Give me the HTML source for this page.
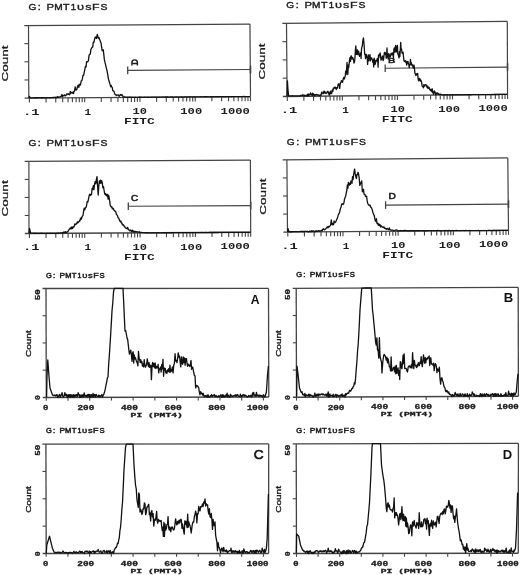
<!DOCTYPE html>
<html><head><meta charset="utf-8"><style>
html,body{margin:0;padding:0;background:#fff;}
svg{display:block;}
svg{will-change:transform;}
</style></head><body>
<svg width="520" height="575" viewBox="0 0 520 575">
<rect width="520" height="575" fill="#fff"/>
<line x1="24.30" y1="25.53" x2="249.95" y2="24.10" stroke="#444" stroke-width="1.20"/>
<line x1="28.50" y1="25.50" x2="28.80" y2="98.10" stroke="#444" stroke-width="1.20"/>
<line x1="249.95" y1="24.10" x2="250.50" y2="96.60" stroke="#444" stroke-width="1.20"/>
<line x1="24.60" y1="98.13" x2="250.50" y2="96.60" stroke="#444" stroke-width="1.40"/>
<line x1="24.38" y1="43.65" x2="28.57" y2="43.65" stroke="#444" stroke-width="1.10"/>
<line x1="24.45" y1="61.80" x2="28.65" y2="61.80" stroke="#444" stroke-width="1.10"/>
<line x1="24.53" y1="79.95" x2="28.73" y2="79.95" stroke="#444" stroke-width="1.10"/>
<line x1="29.40" y1="98.10" x2="29.40" y2="102.60" stroke="#444" stroke-width="1.10"/>
<line x1="46.04" y1="97.98" x2="46.04" y2="102.48" stroke="#444" stroke-width="1.10"/>
<line x1="55.77" y1="97.92" x2="55.77" y2="102.42" stroke="#444" stroke-width="1.10"/>
<line x1="62.68" y1="97.87" x2="62.68" y2="102.37" stroke="#444" stroke-width="1.10"/>
<line x1="68.04" y1="97.83" x2="68.04" y2="102.33" stroke="#444" stroke-width="1.10"/>
<line x1="72.41" y1="97.80" x2="72.41" y2="102.30" stroke="#444" stroke-width="1.10"/>
<line x1="76.11" y1="97.78" x2="76.11" y2="102.28" stroke="#444" stroke-width="1.10"/>
<line x1="79.32" y1="97.76" x2="79.32" y2="102.26" stroke="#444" stroke-width="1.10"/>
<line x1="82.15" y1="97.74" x2="82.15" y2="102.24" stroke="#444" stroke-width="1.10"/>
<line x1="84.67" y1="97.72" x2="84.67" y2="102.22" stroke="#444" stroke-width="1.10"/>
<line x1="101.31" y1="97.61" x2="101.31" y2="102.11" stroke="#444" stroke-width="1.10"/>
<line x1="111.05" y1="97.54" x2="111.05" y2="102.04" stroke="#444" stroke-width="1.10"/>
<line x1="117.95" y1="97.50" x2="117.95" y2="102.00" stroke="#444" stroke-width="1.10"/>
<line x1="123.31" y1="97.46" x2="123.31" y2="101.96" stroke="#444" stroke-width="1.10"/>
<line x1="127.69" y1="97.43" x2="127.69" y2="101.93" stroke="#444" stroke-width="1.10"/>
<line x1="131.39" y1="97.41" x2="131.39" y2="101.91" stroke="#444" stroke-width="1.10"/>
<line x1="134.59" y1="97.38" x2="134.59" y2="101.88" stroke="#444" stroke-width="1.10"/>
<line x1="137.42" y1="97.37" x2="137.42" y2="101.87" stroke="#444" stroke-width="1.10"/>
<line x1="139.95" y1="97.35" x2="139.95" y2="101.85" stroke="#444" stroke-width="1.10"/>
<line x1="156.59" y1="97.24" x2="156.59" y2="101.74" stroke="#444" stroke-width="1.10"/>
<line x1="166.32" y1="97.17" x2="166.32" y2="101.67" stroke="#444" stroke-width="1.10"/>
<line x1="173.23" y1="97.12" x2="173.23" y2="101.62" stroke="#444" stroke-width="1.10"/>
<line x1="178.59" y1="97.09" x2="178.59" y2="101.59" stroke="#444" stroke-width="1.10"/>
<line x1="182.96" y1="97.06" x2="182.96" y2="101.56" stroke="#444" stroke-width="1.10"/>
<line x1="186.66" y1="97.03" x2="186.66" y2="101.53" stroke="#444" stroke-width="1.10"/>
<line x1="189.87" y1="97.01" x2="189.87" y2="101.51" stroke="#444" stroke-width="1.10"/>
<line x1="192.70" y1="96.99" x2="192.70" y2="101.49" stroke="#444" stroke-width="1.10"/>
<line x1="195.22" y1="96.97" x2="195.22" y2="101.47" stroke="#444" stroke-width="1.10"/>
<line x1="211.86" y1="96.86" x2="211.86" y2="101.36" stroke="#444" stroke-width="1.10"/>
<line x1="221.60" y1="96.80" x2="221.60" y2="101.30" stroke="#444" stroke-width="1.10"/>
<line x1="228.50" y1="96.75" x2="228.50" y2="101.25" stroke="#444" stroke-width="1.10"/>
<line x1="233.86" y1="96.71" x2="233.86" y2="101.21" stroke="#444" stroke-width="1.10"/>
<line x1="238.24" y1="96.68" x2="238.24" y2="101.18" stroke="#444" stroke-width="1.10"/>
<line x1="241.94" y1="96.66" x2="241.94" y2="101.16" stroke="#444" stroke-width="1.10"/>
<line x1="245.14" y1="96.64" x2="245.14" y2="101.14" stroke="#444" stroke-width="1.10"/>
<line x1="247.97" y1="96.62" x2="247.97" y2="101.12" stroke="#444" stroke-width="1.10"/>
<line x1="250.50" y1="96.60" x2="250.50" y2="101.10" stroke="#444" stroke-width="1.10"/>
<line x1="127.70" y1="66.60" x2="127.70" y2="74.20" stroke="#444" stroke-width="1.30"/>
<line x1="127.70" y1="70.40" x2="250.50" y2="69.57" stroke="#444" stroke-width="1.10"/>
<line x1="250.50" y1="65.77" x2="250.50" y2="73.37" stroke="#444" stroke-width="1.60"/>
<path d="M131.90,65.40 L131.90,62.65 A2.75,2.75 0 0 1 137.40,62.65 L137.40,65.40 M131.90,63.50 L137.40,63.50" fill="none" stroke="#1c1c1c" stroke-width="1.4"/>
<text transform="translate(28.39,10.20) scale(1.1402,1.0000)" font-family="Liberation Sans" font-weight="normal" font-size="8.87" fill="#1c1c1c" stroke="#1c1c1c" stroke-width="0.39">G</text>
<text transform="translate(37.77,10.20) scale(1.2000,1.0000)" font-family="Liberation Sans" font-weight="normal" font-size="8.87" fill="#1c1c1c" stroke="#1c1c1c" stroke-width="0.38">:</text>
<text transform="translate(46.58,10.20) scale(1.2715,1.0000)" font-family="Liberation Sans" font-weight="normal" font-size="8.87" fill="#1c1c1c" stroke="#1c1c1c" stroke-width="0.35">P</text>
<text transform="translate(54.17,10.20) scale(1.1381,1.0000)" font-family="Liberation Sans" font-weight="normal" font-size="8.87" fill="#1c1c1c" stroke="#1c1c1c" stroke-width="0.40">M</text>
<text transform="translate(63.01,10.20) scale(1.1968,1.0000)" font-family="Liberation Sans" font-weight="normal" font-size="8.87" fill="#1c1c1c" stroke="#1c1c1c" stroke-width="0.38">T</text>
<text transform="translate(70.78,10.20) scale(1.0725,1.0000)" font-family="Liberation Sans" font-weight="normal" font-size="8.87" fill="#1c1c1c" stroke="#1c1c1c" stroke-width="0.42">1</text>
<text transform="translate(77.06,10.20) scale(1.4550,0.9897)" font-family="Liberation Sans" font-weight="normal" font-size="8.87" fill="#1c1c1c" stroke="#1c1c1c" stroke-width="0.31">υ</text>
<text transform="translate(85.15,10.20) scale(1.4226,0.9744)" font-family="Liberation Sans" font-weight="normal" font-size="8.87" fill="#1c1c1c" stroke="#1c1c1c" stroke-width="0.32">s</text>
<text transform="translate(91.99,10.20) scale(1.3845,1.0000)" font-family="Liberation Sans" font-weight="normal" font-size="8.87" fill="#1c1c1c" stroke="#1c1c1c" stroke-width="0.33">F</text>
<text transform="translate(100.53,10.20) scale(1.1755,1.0000)" font-family="Liberation Sans" font-weight="normal" font-size="8.87" fill="#1c1c1c" stroke="#1c1c1c" stroke-width="0.38">S</text>
<text transform="translate(8.41,81.49) rotate(-90) scale(1.4331,1)" font-family="Liberation Sans" font-weight="normal" font-size="9.46" fill="#1c1c1c" stroke="#1c1c1c" stroke-width="0.25">Count</text>
<text transform="translate(22.94,115.07) scale(1.5661,1)" font-family="Liberation Mono" font-weight="bold" font-size="8.81" fill="#1c1c1c">.1</text>
<text transform="translate(84.46,114.70) scale(1.2510,1)" font-family="Liberation Mono" font-weight="bold" font-size="8.81" fill="#1c1c1c">1</text>
<text transform="translate(132.59,114.27) scale(1.4040,1)" font-family="Liberation Mono" font-weight="bold" font-size="8.55" fill="#1c1c1c">10</text>
<text transform="translate(180.28,113.92) scale(1.4249,1)" font-family="Liberation Mono" font-weight="bold" font-size="8.55" fill="#1c1c1c">100</text>
<text transform="translate(220.58,113.62) scale(1.4246,1)" font-family="Liberation Mono" font-weight="bold" font-size="8.55" fill="#1c1c1c">1000</text>
<text transform="translate(123.95,124.21) scale(1.4096,1)" font-family="Liberation Mono" font-weight="bold" font-size="9.13" fill="#1c1c1c">FITC</text>
<line x1="282.30" y1="23.44" x2="507.30" y2="21.40" stroke="#444" stroke-width="1.20"/>
<line x1="286.50" y1="23.40" x2="287.10" y2="96.40" stroke="#444" stroke-width="1.20"/>
<line x1="507.30" y1="21.40" x2="507.55" y2="94.40" stroke="#444" stroke-width="1.20"/>
<line x1="282.90" y1="96.44" x2="507.55" y2="94.40" stroke="#444" stroke-width="1.40"/>
<line x1="282.45" y1="41.65" x2="286.65" y2="41.65" stroke="#444" stroke-width="1.10"/>
<line x1="282.60" y1="59.90" x2="286.80" y2="59.90" stroke="#444" stroke-width="1.10"/>
<line x1="282.75" y1="78.15" x2="286.95" y2="78.15" stroke="#444" stroke-width="1.10"/>
<line x1="287.30" y1="96.40" x2="287.30" y2="100.90" stroke="#444" stroke-width="1.10"/>
<line x1="303.88" y1="96.25" x2="303.88" y2="100.75" stroke="#444" stroke-width="1.10"/>
<line x1="313.57" y1="96.16" x2="313.57" y2="100.66" stroke="#444" stroke-width="1.10"/>
<line x1="320.45" y1="96.10" x2="320.45" y2="100.60" stroke="#444" stroke-width="1.10"/>
<line x1="325.79" y1="96.05" x2="325.79" y2="100.55" stroke="#444" stroke-width="1.10"/>
<line x1="330.15" y1="96.01" x2="330.15" y2="100.51" stroke="#444" stroke-width="1.10"/>
<line x1="333.83" y1="95.98" x2="333.83" y2="100.48" stroke="#444" stroke-width="1.10"/>
<line x1="337.03" y1="95.95" x2="337.03" y2="100.45" stroke="#444" stroke-width="1.10"/>
<line x1="339.84" y1="95.92" x2="339.84" y2="100.42" stroke="#444" stroke-width="1.10"/>
<line x1="342.36" y1="95.90" x2="342.36" y2="100.40" stroke="#444" stroke-width="1.10"/>
<line x1="358.94" y1="95.75" x2="358.94" y2="100.25" stroke="#444" stroke-width="1.10"/>
<line x1="368.63" y1="95.66" x2="368.63" y2="100.16" stroke="#444" stroke-width="1.10"/>
<line x1="375.51" y1="95.60" x2="375.51" y2="100.10" stroke="#444" stroke-width="1.10"/>
<line x1="380.85" y1="95.55" x2="380.85" y2="100.05" stroke="#444" stroke-width="1.10"/>
<line x1="385.21" y1="95.51" x2="385.21" y2="100.01" stroke="#444" stroke-width="1.10"/>
<line x1="388.90" y1="95.48" x2="388.90" y2="99.98" stroke="#444" stroke-width="1.10"/>
<line x1="392.09" y1="95.45" x2="392.09" y2="99.95" stroke="#444" stroke-width="1.10"/>
<line x1="394.91" y1="95.42" x2="394.91" y2="99.92" stroke="#444" stroke-width="1.10"/>
<line x1="397.43" y1="95.40" x2="397.43" y2="99.90" stroke="#444" stroke-width="1.10"/>
<line x1="414.00" y1="95.25" x2="414.00" y2="99.75" stroke="#444" stroke-width="1.10"/>
<line x1="423.70" y1="95.16" x2="423.70" y2="99.66" stroke="#444" stroke-width="1.10"/>
<line x1="430.58" y1="95.10" x2="430.58" y2="99.60" stroke="#444" stroke-width="1.10"/>
<line x1="435.91" y1="95.05" x2="435.91" y2="99.55" stroke="#444" stroke-width="1.10"/>
<line x1="440.27" y1="95.01" x2="440.27" y2="99.51" stroke="#444" stroke-width="1.10"/>
<line x1="443.96" y1="94.98" x2="443.96" y2="99.48" stroke="#444" stroke-width="1.10"/>
<line x1="447.15" y1="94.95" x2="447.15" y2="99.45" stroke="#444" stroke-width="1.10"/>
<line x1="449.97" y1="94.92" x2="449.97" y2="99.42" stroke="#444" stroke-width="1.10"/>
<line x1="452.49" y1="94.90" x2="452.49" y2="99.40" stroke="#444" stroke-width="1.10"/>
<line x1="469.06" y1="94.75" x2="469.06" y2="99.25" stroke="#444" stroke-width="1.10"/>
<line x1="478.76" y1="94.66" x2="478.76" y2="99.16" stroke="#444" stroke-width="1.10"/>
<line x1="485.64" y1="94.60" x2="485.64" y2="99.10" stroke="#444" stroke-width="1.10"/>
<line x1="490.97" y1="94.55" x2="490.97" y2="99.05" stroke="#444" stroke-width="1.10"/>
<line x1="495.33" y1="94.51" x2="495.33" y2="99.01" stroke="#444" stroke-width="1.10"/>
<line x1="499.02" y1="94.48" x2="499.02" y2="98.98" stroke="#444" stroke-width="1.10"/>
<line x1="502.21" y1="94.45" x2="502.21" y2="98.95" stroke="#444" stroke-width="1.10"/>
<line x1="505.03" y1="94.42" x2="505.03" y2="98.92" stroke="#444" stroke-width="1.10"/>
<line x1="507.55" y1="94.40" x2="507.55" y2="98.90" stroke="#444" stroke-width="1.10"/>
<line x1="385.20" y1="64.40" x2="385.20" y2="72.00" stroke="#444" stroke-width="1.30"/>
<line x1="385.20" y1="68.20" x2="507.55" y2="67.09" stroke="#444" stroke-width="1.10"/>
<line x1="507.55" y1="63.29" x2="507.55" y2="70.89" stroke="#444" stroke-width="1.60"/>
<text transform="translate(387.94,63.15) scale(1.3867,1)" font-family="Liberation Sans" font-weight="normal" font-size="7.99" fill="#1c1c1c" stroke="#1c1c1c" stroke-width="0.55">B</text>
<text transform="translate(286.29,8.10) scale(1.1402,1.0000)" font-family="Liberation Sans" font-weight="normal" font-size="8.87" fill="#1c1c1c" stroke="#1c1c1c" stroke-width="0.39">G</text>
<text transform="translate(295.67,8.10) scale(1.2000,1.0000)" font-family="Liberation Sans" font-weight="normal" font-size="8.87" fill="#1c1c1c" stroke="#1c1c1c" stroke-width="0.38">:</text>
<text transform="translate(304.48,8.10) scale(1.2715,1.0000)" font-family="Liberation Sans" font-weight="normal" font-size="8.87" fill="#1c1c1c" stroke="#1c1c1c" stroke-width="0.35">P</text>
<text transform="translate(312.07,8.10) scale(1.1381,1.0000)" font-family="Liberation Sans" font-weight="normal" font-size="8.87" fill="#1c1c1c" stroke="#1c1c1c" stroke-width="0.40">M</text>
<text transform="translate(320.91,8.10) scale(1.1968,1.0000)" font-family="Liberation Sans" font-weight="normal" font-size="8.87" fill="#1c1c1c" stroke="#1c1c1c" stroke-width="0.38">T</text>
<text transform="translate(328.68,8.10) scale(1.0725,1.0000)" font-family="Liberation Sans" font-weight="normal" font-size="8.87" fill="#1c1c1c" stroke="#1c1c1c" stroke-width="0.42">1</text>
<text transform="translate(334.96,8.10) scale(1.4550,0.9897)" font-family="Liberation Sans" font-weight="normal" font-size="8.87" fill="#1c1c1c" stroke="#1c1c1c" stroke-width="0.31">υ</text>
<text transform="translate(343.05,8.10) scale(1.4226,0.9744)" font-family="Liberation Sans" font-weight="normal" font-size="8.87" fill="#1c1c1c" stroke="#1c1c1c" stroke-width="0.32">s</text>
<text transform="translate(349.89,8.10) scale(1.3845,1.0000)" font-family="Liberation Sans" font-weight="normal" font-size="8.87" fill="#1c1c1c" stroke="#1c1c1c" stroke-width="0.33">F</text>
<text transform="translate(358.43,8.10) scale(1.1755,1.0000)" font-family="Liberation Sans" font-weight="normal" font-size="8.87" fill="#1c1c1c" stroke="#1c1c1c" stroke-width="0.38">S</text>
<text transform="translate(265.41,79.49) rotate(-90) scale(1.4331,1)" font-family="Liberation Sans" font-weight="normal" font-size="9.46" fill="#1c1c1c" stroke="#1c1c1c" stroke-width="0.25">Count</text>
<text transform="translate(280.84,113.37) scale(1.5661,1)" font-family="Liberation Mono" font-weight="bold" font-size="8.81" fill="#1c1c1c">.1</text>
<text transform="translate(342.36,112.87) scale(1.2510,1)" font-family="Liberation Mono" font-weight="bold" font-size="8.81" fill="#1c1c1c">1</text>
<text transform="translate(390.49,112.31) scale(1.4040,1)" font-family="Liberation Mono" font-weight="bold" font-size="8.55" fill="#1c1c1c">10</text>
<text transform="translate(438.18,111.85) scale(1.4249,1)" font-family="Liberation Mono" font-weight="bold" font-size="8.55" fill="#1c1c1c">100</text>
<text transform="translate(478.48,111.45) scale(1.4246,1)" font-family="Liberation Mono" font-weight="bold" font-size="8.55" fill="#1c1c1c">1000</text>
<text transform="translate(381.85,122.26) scale(1.4096,1)" font-family="Liberation Mono" font-weight="bold" font-size="9.13" fill="#1c1c1c">FITC</text>
<line x1="24.70" y1="161.42" x2="250.40" y2="160.10" stroke="#444" stroke-width="1.20"/>
<line x1="28.90" y1="161.40" x2="29.00" y2="233.50" stroke="#444" stroke-width="1.20"/>
<line x1="250.40" y1="160.10" x2="250.70" y2="232.30" stroke="#444" stroke-width="1.20"/>
<line x1="24.80" y1="233.52" x2="250.70" y2="232.30" stroke="#444" stroke-width="1.40"/>
<line x1="24.72" y1="179.43" x2="28.92" y2="179.43" stroke="#444" stroke-width="1.10"/>
<line x1="24.75" y1="197.45" x2="28.95" y2="197.45" stroke="#444" stroke-width="1.10"/>
<line x1="24.78" y1="215.47" x2="28.98" y2="215.47" stroke="#444" stroke-width="1.10"/>
<line x1="29.40" y1="233.50" x2="29.40" y2="238.00" stroke="#444" stroke-width="1.10"/>
<line x1="46.05" y1="233.41" x2="46.05" y2="237.91" stroke="#444" stroke-width="1.10"/>
<line x1="55.80" y1="233.35" x2="55.80" y2="237.85" stroke="#444" stroke-width="1.10"/>
<line x1="62.71" y1="233.32" x2="62.71" y2="237.82" stroke="#444" stroke-width="1.10"/>
<line x1="68.07" y1="233.29" x2="68.07" y2="237.79" stroke="#444" stroke-width="1.10"/>
<line x1="72.45" y1="233.26" x2="72.45" y2="237.76" stroke="#444" stroke-width="1.10"/>
<line x1="76.16" y1="233.24" x2="76.16" y2="237.74" stroke="#444" stroke-width="1.10"/>
<line x1="79.36" y1="233.23" x2="79.36" y2="237.73" stroke="#444" stroke-width="1.10"/>
<line x1="82.19" y1="233.21" x2="82.19" y2="237.71" stroke="#444" stroke-width="1.10"/>
<line x1="84.72" y1="233.20" x2="84.72" y2="237.70" stroke="#444" stroke-width="1.10"/>
<line x1="101.38" y1="233.11" x2="101.38" y2="237.61" stroke="#444" stroke-width="1.10"/>
<line x1="111.12" y1="233.06" x2="111.12" y2="237.56" stroke="#444" stroke-width="1.10"/>
<line x1="118.03" y1="233.02" x2="118.03" y2="237.52" stroke="#444" stroke-width="1.10"/>
<line x1="123.40" y1="232.99" x2="123.40" y2="237.49" stroke="#444" stroke-width="1.10"/>
<line x1="127.78" y1="232.97" x2="127.78" y2="237.47" stroke="#444" stroke-width="1.10"/>
<line x1="131.48" y1="232.95" x2="131.48" y2="237.45" stroke="#444" stroke-width="1.10"/>
<line x1="134.69" y1="232.93" x2="134.69" y2="237.43" stroke="#444" stroke-width="1.10"/>
<line x1="137.52" y1="232.91" x2="137.52" y2="237.41" stroke="#444" stroke-width="1.10"/>
<line x1="140.05" y1="232.90" x2="140.05" y2="237.40" stroke="#444" stroke-width="1.10"/>
<line x1="156.70" y1="232.81" x2="156.70" y2="237.31" stroke="#444" stroke-width="1.10"/>
<line x1="166.45" y1="232.76" x2="166.45" y2="237.26" stroke="#444" stroke-width="1.10"/>
<line x1="173.36" y1="232.72" x2="173.36" y2="237.22" stroke="#444" stroke-width="1.10"/>
<line x1="178.72" y1="232.69" x2="178.72" y2="237.19" stroke="#444" stroke-width="1.10"/>
<line x1="183.10" y1="232.67" x2="183.10" y2="237.17" stroke="#444" stroke-width="1.10"/>
<line x1="186.81" y1="232.65" x2="186.81" y2="237.15" stroke="#444" stroke-width="1.10"/>
<line x1="190.01" y1="232.63" x2="190.01" y2="237.13" stroke="#444" stroke-width="1.10"/>
<line x1="192.84" y1="232.61" x2="192.84" y2="237.11" stroke="#444" stroke-width="1.10"/>
<line x1="195.38" y1="232.60" x2="195.38" y2="237.10" stroke="#444" stroke-width="1.10"/>
<line x1="212.03" y1="232.51" x2="212.03" y2="237.01" stroke="#444" stroke-width="1.10"/>
<line x1="221.77" y1="232.46" x2="221.77" y2="236.96" stroke="#444" stroke-width="1.10"/>
<line x1="228.68" y1="232.42" x2="228.68" y2="236.92" stroke="#444" stroke-width="1.10"/>
<line x1="234.05" y1="232.39" x2="234.05" y2="236.89" stroke="#444" stroke-width="1.10"/>
<line x1="238.43" y1="232.37" x2="238.43" y2="236.87" stroke="#444" stroke-width="1.10"/>
<line x1="242.13" y1="232.35" x2="242.13" y2="236.85" stroke="#444" stroke-width="1.10"/>
<line x1="245.34" y1="232.33" x2="245.34" y2="236.83" stroke="#444" stroke-width="1.10"/>
<line x1="248.17" y1="232.31" x2="248.17" y2="236.81" stroke="#444" stroke-width="1.10"/>
<line x1="250.70" y1="232.30" x2="250.70" y2="236.80" stroke="#444" stroke-width="1.10"/>
<line x1="128.30" y1="202.50" x2="128.30" y2="210.10" stroke="#444" stroke-width="1.30"/>
<line x1="128.30" y1="206.30" x2="250.70" y2="205.64" stroke="#444" stroke-width="1.10"/>
<line x1="250.70" y1="201.84" x2="250.70" y2="209.44" stroke="#444" stroke-width="1.60"/>
<text transform="translate(131.04,200.96) scale(1.1360,1)" font-family="Liberation Sans" font-weight="normal" font-size="8.76" fill="#1c1c1c" stroke="#1c1c1c" stroke-width="0.55">C</text>
<text transform="translate(28.39,146.10) scale(1.1402,1.0000)" font-family="Liberation Sans" font-weight="normal" font-size="8.87" fill="#1c1c1c" stroke="#1c1c1c" stroke-width="0.39">G</text>
<text transform="translate(37.77,146.10) scale(1.2000,1.0000)" font-family="Liberation Sans" font-weight="normal" font-size="8.87" fill="#1c1c1c" stroke="#1c1c1c" stroke-width="0.38">:</text>
<text transform="translate(46.58,146.10) scale(1.2715,1.0000)" font-family="Liberation Sans" font-weight="normal" font-size="8.87" fill="#1c1c1c" stroke="#1c1c1c" stroke-width="0.35">P</text>
<text transform="translate(54.17,146.10) scale(1.1381,1.0000)" font-family="Liberation Sans" font-weight="normal" font-size="8.87" fill="#1c1c1c" stroke="#1c1c1c" stroke-width="0.40">M</text>
<text transform="translate(63.01,146.10) scale(1.1968,1.0000)" font-family="Liberation Sans" font-weight="normal" font-size="8.87" fill="#1c1c1c" stroke="#1c1c1c" stroke-width="0.38">T</text>
<text transform="translate(70.78,146.10) scale(1.0725,1.0000)" font-family="Liberation Sans" font-weight="normal" font-size="8.87" fill="#1c1c1c" stroke="#1c1c1c" stroke-width="0.42">1</text>
<text transform="translate(77.06,146.10) scale(1.4550,0.9897)" font-family="Liberation Sans" font-weight="normal" font-size="8.87" fill="#1c1c1c" stroke="#1c1c1c" stroke-width="0.31">υ</text>
<text transform="translate(85.15,146.10) scale(1.4226,0.9744)" font-family="Liberation Sans" font-weight="normal" font-size="8.87" fill="#1c1c1c" stroke="#1c1c1c" stroke-width="0.32">s</text>
<text transform="translate(91.99,146.10) scale(1.3845,1.0000)" font-family="Liberation Sans" font-weight="normal" font-size="8.87" fill="#1c1c1c" stroke="#1c1c1c" stroke-width="0.33">F</text>
<text transform="translate(100.53,146.10) scale(1.1755,1.0000)" font-family="Liberation Sans" font-weight="normal" font-size="8.87" fill="#1c1c1c" stroke="#1c1c1c" stroke-width="0.38">S</text>
<text transform="translate(8.41,216.49) rotate(-90) scale(1.4548,1)" font-family="Liberation Sans" font-weight="normal" font-size="9.32" fill="#1c1c1c" stroke="#1c1c1c" stroke-width="0.25">Count</text>
<text transform="translate(22.94,250.48) scale(1.5661,1)" font-family="Liberation Mono" font-weight="bold" font-size="8.81" fill="#1c1c1c">.1</text>
<text transform="translate(84.46,250.18) scale(1.2510,1)" font-family="Liberation Mono" font-weight="bold" font-size="8.81" fill="#1c1c1c">1</text>
<text transform="translate(132.59,249.82) scale(1.4040,1)" font-family="Liberation Mono" font-weight="bold" font-size="8.55" fill="#1c1c1c">10</text>
<text transform="translate(180.28,249.54) scale(1.4249,1)" font-family="Liberation Mono" font-weight="bold" font-size="8.55" fill="#1c1c1c">100</text>
<text transform="translate(220.58,249.30) scale(1.4246,1)" font-family="Liberation Mono" font-weight="bold" font-size="8.55" fill="#1c1c1c">1000</text>
<text transform="translate(123.95,259.76) scale(1.4096,1)" font-family="Liberation Mono" font-weight="bold" font-size="9.13" fill="#1c1c1c">FITC</text>
<line x1="282.70" y1="159.94" x2="507.80" y2="157.90" stroke="#444" stroke-width="1.20"/>
<line x1="286.90" y1="159.90" x2="287.50" y2="232.10" stroke="#444" stroke-width="1.20"/>
<line x1="507.80" y1="157.90" x2="508.50" y2="230.40" stroke="#444" stroke-width="1.20"/>
<line x1="283.30" y1="232.13" x2="508.50" y2="230.40" stroke="#444" stroke-width="1.40"/>
<line x1="282.85" y1="177.95" x2="287.05" y2="177.95" stroke="#444" stroke-width="1.10"/>
<line x1="283.00" y1="196.00" x2="287.20" y2="196.00" stroke="#444" stroke-width="1.10"/>
<line x1="283.15" y1="214.05" x2="287.35" y2="214.05" stroke="#444" stroke-width="1.10"/>
<line x1="287.80" y1="232.10" x2="287.80" y2="236.60" stroke="#444" stroke-width="1.10"/>
<line x1="304.41" y1="231.97" x2="304.41" y2="236.47" stroke="#444" stroke-width="1.10"/>
<line x1="314.13" y1="231.90" x2="314.13" y2="236.40" stroke="#444" stroke-width="1.10"/>
<line x1="321.02" y1="231.84" x2="321.02" y2="236.34" stroke="#444" stroke-width="1.10"/>
<line x1="326.37" y1="231.80" x2="326.37" y2="236.30" stroke="#444" stroke-width="1.10"/>
<line x1="330.73" y1="231.77" x2="330.73" y2="236.27" stroke="#444" stroke-width="1.10"/>
<line x1="334.43" y1="231.74" x2="334.43" y2="236.24" stroke="#444" stroke-width="1.10"/>
<line x1="337.63" y1="231.71" x2="337.63" y2="236.21" stroke="#444" stroke-width="1.10"/>
<line x1="340.45" y1="231.69" x2="340.45" y2="236.19" stroke="#444" stroke-width="1.10"/>
<line x1="342.98" y1="231.67" x2="342.98" y2="236.17" stroke="#444" stroke-width="1.10"/>
<line x1="359.58" y1="231.55" x2="359.58" y2="236.05" stroke="#444" stroke-width="1.10"/>
<line x1="369.30" y1="231.47" x2="369.30" y2="235.97" stroke="#444" stroke-width="1.10"/>
<line x1="376.19" y1="231.42" x2="376.19" y2="235.92" stroke="#444" stroke-width="1.10"/>
<line x1="381.54" y1="231.38" x2="381.54" y2="235.88" stroke="#444" stroke-width="1.10"/>
<line x1="385.91" y1="231.34" x2="385.91" y2="235.84" stroke="#444" stroke-width="1.10"/>
<line x1="389.60" y1="231.31" x2="389.60" y2="235.81" stroke="#444" stroke-width="1.10"/>
<line x1="392.80" y1="231.29" x2="392.80" y2="235.79" stroke="#444" stroke-width="1.10"/>
<line x1="395.63" y1="231.27" x2="395.63" y2="235.77" stroke="#444" stroke-width="1.10"/>
<line x1="398.15" y1="231.25" x2="398.15" y2="235.75" stroke="#444" stroke-width="1.10"/>
<line x1="414.76" y1="231.12" x2="414.76" y2="235.62" stroke="#444" stroke-width="1.10"/>
<line x1="424.48" y1="231.05" x2="424.48" y2="235.55" stroke="#444" stroke-width="1.10"/>
<line x1="431.37" y1="230.99" x2="431.37" y2="235.49" stroke="#444" stroke-width="1.10"/>
<line x1="436.72" y1="230.95" x2="436.72" y2="235.45" stroke="#444" stroke-width="1.10"/>
<line x1="441.08" y1="230.92" x2="441.08" y2="235.42" stroke="#444" stroke-width="1.10"/>
<line x1="444.78" y1="230.89" x2="444.78" y2="235.39" stroke="#444" stroke-width="1.10"/>
<line x1="447.98" y1="230.87" x2="447.98" y2="235.37" stroke="#444" stroke-width="1.10"/>
<line x1="450.80" y1="230.84" x2="450.80" y2="235.34" stroke="#444" stroke-width="1.10"/>
<line x1="453.32" y1="230.82" x2="453.32" y2="235.32" stroke="#444" stroke-width="1.10"/>
<line x1="469.93" y1="230.70" x2="469.93" y2="235.20" stroke="#444" stroke-width="1.10"/>
<line x1="479.65" y1="230.62" x2="479.65" y2="235.12" stroke="#444" stroke-width="1.10"/>
<line x1="486.54" y1="230.57" x2="486.54" y2="235.07" stroke="#444" stroke-width="1.10"/>
<line x1="491.89" y1="230.53" x2="491.89" y2="235.03" stroke="#444" stroke-width="1.10"/>
<line x1="496.26" y1="230.49" x2="496.26" y2="234.99" stroke="#444" stroke-width="1.10"/>
<line x1="499.95" y1="230.47" x2="499.95" y2="234.97" stroke="#444" stroke-width="1.10"/>
<line x1="503.15" y1="230.44" x2="503.15" y2="234.94" stroke="#444" stroke-width="1.10"/>
<line x1="505.98" y1="230.42" x2="505.98" y2="234.92" stroke="#444" stroke-width="1.10"/>
<line x1="508.50" y1="230.40" x2="508.50" y2="234.90" stroke="#444" stroke-width="1.10"/>
<line x1="385.60" y1="201.30" x2="385.60" y2="208.90" stroke="#444" stroke-width="1.30"/>
<line x1="385.60" y1="205.10" x2="508.50" y2="204.15" stroke="#444" stroke-width="1.10"/>
<line x1="508.50" y1="200.35" x2="508.50" y2="207.95" stroke="#444" stroke-width="1.60"/>
<text transform="translate(388.52,199.15) scale(1.1813,1)" font-family="Liberation Sans" font-weight="normal" font-size="8.58" fill="#1c1c1c" stroke="#1c1c1c" stroke-width="0.55">D</text>
<text transform="translate(286.79,144.60) scale(1.1402,1.0000)" font-family="Liberation Sans" font-weight="normal" font-size="8.87" fill="#1c1c1c" stroke="#1c1c1c" stroke-width="0.39">G</text>
<text transform="translate(296.17,144.60) scale(1.2000,1.0000)" font-family="Liberation Sans" font-weight="normal" font-size="8.87" fill="#1c1c1c" stroke="#1c1c1c" stroke-width="0.38">:</text>
<text transform="translate(304.98,144.60) scale(1.2715,1.0000)" font-family="Liberation Sans" font-weight="normal" font-size="8.87" fill="#1c1c1c" stroke="#1c1c1c" stroke-width="0.35">P</text>
<text transform="translate(312.57,144.60) scale(1.1381,1.0000)" font-family="Liberation Sans" font-weight="normal" font-size="8.87" fill="#1c1c1c" stroke="#1c1c1c" stroke-width="0.40">M</text>
<text transform="translate(321.41,144.60) scale(1.1968,1.0000)" font-family="Liberation Sans" font-weight="normal" font-size="8.87" fill="#1c1c1c" stroke="#1c1c1c" stroke-width="0.38">T</text>
<text transform="translate(329.18,144.60) scale(1.0725,1.0000)" font-family="Liberation Sans" font-weight="normal" font-size="8.87" fill="#1c1c1c" stroke="#1c1c1c" stroke-width="0.42">1</text>
<text transform="translate(335.46,144.60) scale(1.4550,0.9897)" font-family="Liberation Sans" font-weight="normal" font-size="8.87" fill="#1c1c1c" stroke="#1c1c1c" stroke-width="0.31">υ</text>
<text transform="translate(343.55,144.60) scale(1.4226,0.9744)" font-family="Liberation Sans" font-weight="normal" font-size="8.87" fill="#1c1c1c" stroke="#1c1c1c" stroke-width="0.32">s</text>
<text transform="translate(350.39,144.60) scale(1.3845,1.0000)" font-family="Liberation Sans" font-weight="normal" font-size="8.87" fill="#1c1c1c" stroke="#1c1c1c" stroke-width="0.33">F</text>
<text transform="translate(358.93,144.60) scale(1.1755,1.0000)" font-family="Liberation Sans" font-weight="normal" font-size="8.87" fill="#1c1c1c" stroke="#1c1c1c" stroke-width="0.38">S</text>
<text transform="translate(265.51,214.69) rotate(-90) scale(1.4772,1)" font-family="Liberation Sans" font-weight="normal" font-size="9.18" fill="#1c1c1c" stroke="#1c1c1c" stroke-width="0.25">Count</text>
<text transform="translate(281.34,249.07) scale(1.5661,1)" font-family="Liberation Mono" font-weight="bold" font-size="8.81" fill="#1c1c1c">.1</text>
<text transform="translate(342.86,248.65) scale(1.2510,1)" font-family="Liberation Mono" font-weight="bold" font-size="8.81" fill="#1c1c1c">1</text>
<text transform="translate(390.99,248.16) scale(1.4040,1)" font-family="Liberation Mono" font-weight="bold" font-size="8.55" fill="#1c1c1c">10</text>
<text transform="translate(438.68,247.77) scale(1.4249,1)" font-family="Liberation Mono" font-weight="bold" font-size="8.55" fill="#1c1c1c">100</text>
<text transform="translate(478.98,247.43) scale(1.4246,1)" font-family="Liberation Mono" font-weight="bold" font-size="8.55" fill="#1c1c1c">1000</text>
<text transform="translate(382.35,258.11) scale(1.4096,1)" font-family="Liberation Mono" font-weight="bold" font-size="9.13" fill="#1c1c1c">FITC</text>
<polyline fill="none" stroke="#111" stroke-width="1.30" stroke-linejoin="round" points="29.00,98.00 29.40,96.30 30.20,97.80 30.71,97.79 31.22,97.80 31.72,97.79 32.23,97.79 32.74,97.81 33.25,97.78 33.75,97.76 34.26,97.79 34.77,97.81 35.28,97.67 35.78,97.81 36.29,97.74 36.80,97.72 37.31,97.76 37.82,97.73 38.32,97.72 38.83,97.61 39.34,97.71 39.85,97.80 40.35,97.72 40.86,97.78 41.37,97.73 41.88,97.77 42.38,97.75 42.89,97.80 43.40,97.57 43.91,97.78 44.42,97.76 44.92,97.81 45.43,97.78 45.94,97.76 46.45,97.64 46.95,97.68 47.46,97.70 47.97,97.80 48.48,97.73 48.98,97.61 49.49,97.56 50.00,97.70 50.50,97.79 51.00,97.59 51.50,97.68 52.00,97.66 52.50,97.53 53.00,97.43 53.50,97.56 54.00,97.38 54.50,97.42 55.00,97.30 55.54,97.76 56.09,97.06 56.63,97.68 57.18,97.49 57.72,96.48 58.27,97.38 58.81,97.11 59.36,97.11 59.90,96.90 60.41,96.32 60.93,96.66 61.44,95.76 61.96,94.35 62.47,96.50 62.99,95.60 63.50,95.80 64.03,95.10 64.56,94.87 65.09,96.02 65.61,95.32 66.14,95.24 66.67,93.97 67.20,94.50 67.71,94.03 68.23,93.68 68.74,94.44 69.26,94.76 69.77,94.62 70.29,91.38 70.80,93.30 71.34,92.77 71.89,92.31 72.43,93.17 72.98,92.12 73.52,93.50 74.07,91.23 74.61,91.03 75.16,86.90 75.70,89.60 76.23,89.97 76.75,89.62 77.28,87.52 77.80,85.69 78.33,85.13 78.85,87.36 79.38,84.27 79.90,84.70 80.40,85.10 80.90,82.33 81.40,80.55 81.90,80.55 82.40,78.70 83.00,75.45 83.60,75.32 84.20,72.60 84.80,69.55 85.40,66.50 86.00,67.07 86.60,61.68 87.20,61.97 87.80,61.60 88.43,60.64 89.07,55.19 89.70,54.30 90.30,54.17 90.90,49.34 91.50,48.20 92.10,47.31 92.70,47.14 93.30,42.20 93.90,42.35 94.50,39.70 95.13,37.22 95.77,37.08 96.40,38.50 97.30,34.50 98.20,38.00 99.00,37.50 99.50,39.70 100.00,39.81 100.50,42.20 101.05,42.97 101.60,46.88 102.15,50.56 102.70,50.63 103.25,49.78 103.80,54.40 104.35,59.40 104.90,62.18 105.45,64.12 106.00,66.60 106.60,69.10 107.20,71.51 107.80,74.81 108.40,78.80 109.00,81.07 109.60,82.72 110.20,84.90 110.72,86.80 111.23,85.48 111.75,86.78 112.27,87.56 112.78,90.72 113.30,91.00 113.90,91.12 114.50,93.19 115.10,94.38 115.70,94.60 116.28,95.57 116.85,94.97 117.42,95.13 118.00,95.20 118.55,94.89 119.10,96.38 119.65,95.57 120.20,95.02 120.75,94.48 121.30,95.37 121.85,94.79 122.40,95.20 122.95,96.39 123.50,96.80 124.00,97.01 124.50,96.96 125.00,97.01 125.50,97.16 126.00,97.30 126.50,97.17 127.00,97.17 127.50,97.24 128.00,97.16 128.50,97.23 129.00,97.40 129.50,97.23 130.00,97.30 130.50,96.93 131.00,97.24 131.50,97.38 132.00,97.39 132.50,97.26 133.00,97.16 133.50,97.35 134.00,97.39 134.50,97.33 135.00,97.35 135.50,97.13 136.00,97.37 136.50,97.36 137.00,97.37 137.50,97.33 138.00,97.28 138.50,97.36 139.00,97.14 139.50,96.97 140.00,97.15 140.50,97.34 141.00,97.23 141.50,97.32 142.00,97.18 142.50,97.33 143.00,97.33 143.50,97.23 144.00,97.09 144.50,97.13 145.00,97.09 145.50,97.19 146.00,97.13 146.50,97.30 147.00,97.22 147.50,97.12 148.00,97.29 148.50,97.12 149.00,97.24 149.50,97.28 150.00,97.28 150.50,97.21 151.00,97.16 151.50,97.07 152.00,97.09 152.50,97.05 153.00,97.14 153.50,97.03 154.00,97.15 154.50,97.04 155.00,97.25 155.50,97.22 156.00,97.10 156.50,97.09 157.00,97.14 157.50,97.13 158.00,97.05 158.50,97.19 159.00,97.22 159.50,97.15 160.00,97.16 160.50,97.21 161.00,97.21 161.50,97.20 162.00,97.20 162.50,97.13 163.00,97.00 163.50,97.10 164.00,97.13 164.50,97.05 165.00,97.18 165.50,96.83 166.00,97.17 166.50,97.01 167.00,97.00 167.50,96.99 168.00,97.15 168.50,97.15 169.00,97.05 169.50,97.14 170.00,97.02 170.50,96.93 171.00,96.93 171.50,97.06 172.00,97.12 172.50,96.93 173.00,97.06 173.50,97.03 174.00,97.12 174.50,97.09 175.00,97.04 175.50,97.09 176.00,96.90 176.50,96.98 177.00,97.10 177.50,97.08 178.00,97.07 178.50,97.09 179.00,97.01 179.50,97.06 180.00,97.06 180.50,97.04 181.00,97.00 181.50,97.01 182.00,96.93 182.50,97.06 183.00,97.06 183.50,97.05 184.00,97.05 184.50,96.83 185.00,96.86 185.50,96.93 186.00,96.86 186.50,97.03 187.00,97.03 187.50,97.01 188.00,96.94 188.50,96.85 189.00,96.88 189.50,96.97 190.00,96.81 190.50,96.84 191.00,96.83 191.50,96.97 192.00,96.87 192.50,96.85 193.00,96.79 193.50,96.99 194.00,96.91 194.50,96.78 195.00,96.98 195.50,96.92 196.00,96.97 196.50,96.87 197.00,96.83 197.50,96.96 198.00,96.93 198.50,96.94 199.00,96.95 199.50,96.95 200.00,96.81 200.50,96.75 201.00,96.93 201.50,96.90 202.00,96.77 202.50,96.86 203.00,96.92 203.50,96.84 204.00,96.83 204.50,96.77 205.00,96.72 205.50,96.80 206.00,96.71 206.50,96.90 207.00,96.70 207.50,96.89 208.00,96.87 208.50,96.88 209.00,96.88 209.50,96.80 210.00,96.79 210.50,96.74 211.00,96.81 211.50,96.73 212.00,96.76 212.50,96.86 213.00,96.67 213.50,96.85 214.00,96.77 214.50,96.84 215.00,96.84 215.50,96.69 216.00,96.65 216.50,96.83 217.00,96.75 217.50,96.77 218.00,96.63 218.50,96.79 219.00,96.81 219.50,96.75 220.00,96.77 220.50,96.70 221.00,96.67 221.50,96.71 222.00,96.69 222.50,96.68 223.00,96.79 223.50,96.73 224.00,96.78 224.50,96.78 225.00,96.75 225.50,96.75 226.00,96.61 226.50,96.76 227.00,96.60 227.50,96.61 228.00,96.64 228.50,96.58 229.00,96.75 229.50,96.72 230.00,96.66 230.50,96.57 231.00,96.73 231.50,96.73 232.00,96.73 232.50,96.62 233.00,96.64 233.50,96.56 234.00,96.71 234.50,96.65 235.00,96.70 235.50,96.70 236.00,96.59 236.50,96.68 237.00,96.69 237.50,96.56 238.00,96.67 238.50,96.68 239.00,96.68 239.50,96.67 240.00,96.62 240.50,96.63 241.00,96.52 241.50,96.66 242.00,96.62 242.50,96.57 243.00,96.38 243.50,96.53 244.00,96.58 244.50,96.50 245.00,96.62 245.50,96.63 246.00,96.63 246.50,96.63 247.00,96.51 247.50,96.62 248.00,96.62 248.50,96.61 249.00,96.61 249.50,96.57 250.00,96.60"/>
<polyline fill="none" stroke="#111" stroke-width="1.30" stroke-linejoin="round" points="287.00,96.20 287.40,81.00 288.00,90.00 288.60,95.80 289.01,95.81 289.41,95.78 289.82,95.82 290.23,95.81 290.64,95.82 291.04,95.80 291.45,95.82 291.86,95.87 292.26,95.84 292.67,95.71 293.08,95.82 293.49,95.90 293.89,95.90 294.30,95.80 294.71,95.80 295.11,95.86 295.52,95.86 295.93,95.96 296.34,95.85 296.74,95.96 297.15,95.90 297.56,95.96 297.96,95.99 298.37,95.95 298.78,95.82 299.19,95.89 299.59,95.98 300.00,95.90 300.45,95.70 300.90,95.32 301.35,95.44 301.80,95.43 302.25,95.53 302.70,94.80 303.16,95.62 303.62,95.58 304.08,94.97 304.54,95.93 305.00,95.60 305.40,95.56 305.80,95.36 306.20,95.42 306.60,95.66 307.00,95.77 307.40,94.51 307.80,96.02 308.20,93.84 308.60,95.42 309.00,95.49 309.40,94.62 309.80,94.17 310.20,94.13 310.60,92.82 311.00,94.80 311.40,93.98 311.80,94.53 312.20,95.53 312.60,93.12 313.00,95.24 313.40,93.89 313.80,94.26 314.20,94.28 314.60,96.15 315.00,94.60 315.41,95.17 315.82,95.16 316.23,94.43 316.63,94.69 317.04,95.02 317.45,94.62 317.86,95.14 318.27,94.89 318.67,95.17 319.08,95.31 319.49,95.75 319.90,95.80 320.30,94.79 320.70,94.79 321.10,95.20 321.50,92.94 321.90,91.90 322.30,93.00 322.71,93.29 323.12,93.85 323.53,92.62 323.94,91.22 324.36,93.07 324.77,91.36 325.18,92.56 325.59,92.93 326.00,93.60 326.60,92.75 327.20,91.80 327.60,91.47 328.00,91.41 328.40,93.57 328.80,92.39 329.20,95.19 329.60,93.98 330.00,94.12 330.40,91.19 330.80,93.50 331.21,93.16 331.62,93.55 332.03,90.33 332.44,89.88 332.86,91.50 333.27,88.27 333.68,88.92 334.09,87.59 334.50,88.00 334.95,86.87 335.40,88.31 335.85,87.70 336.30,89.50 336.73,87.65 337.16,87.54 337.59,88.10 338.01,84.88 338.44,83.88 338.87,85.37 339.30,84.00 339.71,88.33 340.12,84.34 340.53,82.66 340.94,82.03 341.36,80.71 341.77,81.23 342.18,82.34 342.59,82.07 343.00,80.00 343.45,78.02 343.90,77.48 344.35,78.97 344.80,77.40 345.25,75.90 345.70,71.14 346.15,74.43 346.60,69.50 347.02,62.46 347.43,70.31 347.85,74.58 348.27,65.19 348.68,67.55 349.10,64.10 349.55,59.82 350.00,57.61 350.45,61.43 350.90,56.00 351.30,55.81 351.70,58.24 352.10,59.20 352.58,57.33 353.06,58.45 353.54,59.89 354.02,63.03 354.50,62.00 354.93,58.28 355.37,50.42 355.80,46.00 356.40,54.42 357.00,50.00 357.41,49.86 357.83,54.65 358.24,51.63 358.66,51.15 359.07,54.29 359.49,56.37 359.90,54.30 360.30,53.85 360.70,52.84 361.10,58.35 361.50,48.96 361.90,47.11 362.30,46.00 362.90,40.26 363.50,38.00 364.10,44.98 364.70,54.30 365.12,53.86 365.53,58.68 365.95,55.98 366.37,54.29 366.78,56.98 367.20,56.80 367.60,64.37 368.00,56.94 368.40,54.81 368.80,60.79 369.20,56.37 369.60,57.84 370.00,54.57 370.40,60.95 370.80,58.00 371.21,57.84 371.62,57.98 372.03,59.22 372.44,60.40 372.86,62.24 373.27,59.70 373.68,66.95 374.09,58.22 374.50,59.20 374.98,64.50 375.46,63.22 375.94,60.55 376.42,60.24 376.90,61.00 377.30,58.53 377.70,58.65 378.10,67.21 378.50,55.09 378.90,57.63 379.30,54.30 379.72,54.31 380.13,52.91 380.55,55.95 380.97,60.12 381.38,59.31 381.80,59.20 382.25,56.67 382.70,56.04 383.15,60.70 383.60,59.09 384.05,55.14 384.50,52.37 384.95,52.41 385.40,54.30 385.80,53.15 386.20,58.29 386.60,56.59 387.00,48.00 387.40,56.15 387.80,56.80 388.21,59.07 388.62,53.59 389.03,54.25 389.44,54.78 389.86,57.27 390.27,56.78 390.68,55.46 391.09,53.23 391.50,54.30 391.98,54.87 392.46,53.20 392.94,52.81 393.42,58.26 393.90,49.00 394.34,47.87 394.79,52.11 395.23,47.95 395.67,45.32 396.11,51.84 396.56,51.90 397.00,47.00 397.40,45.33 397.80,54.03 398.20,54.06 398.60,56.00 399.02,57.92 399.43,51.57 399.85,56.37 400.27,50.36 400.68,42.41 401.10,49.50 401.58,48.98 402.06,53.27 402.54,52.92 403.02,52.07 403.50,56.80 403.95,60.63 404.40,61.38 404.85,60.86 405.30,62.00 405.77,60.79 406.25,62.56 406.73,65.12 407.20,61.60 407.60,61.99 408.00,61.49 408.40,63.96 408.80,64.12 409.20,67.67 409.60,65.00 410.03,64.75 410.46,59.36 410.89,64.81 411.31,62.68 411.74,65.21 412.17,64.56 412.60,65.30 413.08,67.53 413.55,68.17 414.02,65.03 414.50,68.90 414.95,73.32 415.40,73.81 415.85,75.49 416.30,75.00 416.75,73.60 417.20,74.40 417.65,73.41 418.10,78.70 418.58,80.76 419.06,80.54 419.54,78.42 420.02,78.89 420.50,81.10 420.92,80.26 421.33,80.99 421.75,83.34 422.17,86.22 422.58,86.53 423.00,86.60 423.43,87.90 423.86,84.55 424.29,86.28 424.71,85.03 425.14,84.97 425.57,84.56 426.00,84.70 426.42,86.55 426.83,85.83 427.25,87.54 427.67,86.19 428.08,88.48 428.50,88.40 428.93,87.20 429.36,88.13 429.79,89.68 430.21,90.15 430.64,90.71 431.07,89.16 431.50,90.80 431.90,91.82 432.30,88.90 432.70,92.53 433.10,91.84 433.50,94.48 433.90,91.93 434.30,90.87 434.70,92.66 435.10,92.00 435.51,94.37 435.92,94.86 436.33,92.99 436.74,93.28 437.16,93.90 437.57,92.94 437.98,93.28 438.39,94.44 438.80,93.90 439.25,94.46 439.70,94.59 440.15,94.21 440.60,94.36 441.05,94.43 441.50,94.56 441.95,94.80 442.40,94.90 442.80,94.80 443.20,94.98 443.60,94.93 444.00,94.98 444.40,94.84 444.80,94.97 445.20,94.75 445.60,94.81 446.00,94.90 446.40,94.84 446.80,94.95 447.20,94.88 447.60,94.72 448.00,94.80 448.40,94.94 448.80,94.93 449.21,94.93 449.61,94.93 450.01,94.78 450.41,94.92 450.81,94.79 451.21,94.91 451.61,94.91 452.01,94.79 452.41,94.74 452.81,94.76 453.21,94.83 453.61,94.89 454.01,94.85 454.41,94.77 454.81,94.87 455.22,94.73 455.62,94.87 456.02,94.82 456.42,94.73 456.82,94.85 457.22,94.86 457.62,94.85 458.02,94.70 458.42,94.73 458.82,94.78 459.22,94.84 459.62,94.83 460.02,94.58 460.42,94.81 460.82,94.77 461.22,94.82 461.63,94.78 462.03,94.81 462.43,94.70 462.83,94.78 463.23,94.80 463.63,94.80 464.03,94.79 464.43,94.79 464.83,94.76 465.23,94.55 465.63,94.78 466.03,94.78 466.43,94.72 466.83,94.77 467.23,94.77 467.64,94.65 468.04,94.76 468.44,94.75 468.84,94.67 469.24,94.66 469.64,94.74 470.04,94.66 470.44,94.74 470.84,94.73 471.24,94.73 471.64,94.73 472.04,94.66 472.44,94.64 472.84,94.67 473.24,94.71 473.65,94.71 474.05,94.70 474.45,94.70 474.85,94.65 475.25,94.66 475.65,94.69 476.05,94.69 476.45,94.66 476.85,94.68 477.25,94.67 477.65,94.67 478.05,94.67 478.45,94.66 478.85,94.66 479.25,94.66 479.65,94.65 480.06,94.65 480.46,94.65 480.86,94.64 481.26,94.64 481.66,94.63 482.06,94.63 482.46,94.63 482.86,94.62 483.26,94.62 483.66,94.62 484.06,94.61 484.46,94.61 484.86,94.60 485.26,94.60 485.66,94.60 486.07,94.59 486.47,94.59 486.87,94.59 487.27,94.58 487.67,94.58 488.07,94.58 488.47,94.57 488.87,94.57 489.27,94.57 489.67,94.56 490.07,94.56 490.47,94.55 490.87,94.55 491.27,94.55 491.67,94.54 492.08,94.53 492.48,94.54 492.88,94.52 493.28,94.53 493.68,94.53 494.08,94.52 494.48,94.52 494.88,94.51 495.28,94.51 495.68,94.51 496.08,94.50 496.48,94.50 496.88,94.50 497.28,94.49 497.68,94.49 498.08,94.49 498.49,94.48 498.89,94.48 499.29,94.47 499.69,94.47 500.09,94.36 500.49,94.46 500.89,94.46 501.29,94.46 501.69,94.45 502.09,94.45 502.49,94.45 502.89,94.44 503.29,94.44 503.69,94.43 504.09,94.43 504.50,94.43 504.90,94.42 505.30,94.42 505.70,94.42 506.10,94.41 506.50,94.35 506.90,94.41 507.30,94.60"/>
<polyline fill="none" stroke="#111" stroke-width="1.30" stroke-linejoin="round" points="29.10,233.40 29.50,228.30 30.05,230.75 30.60,233.20 31.11,233.20 31.62,233.20 32.12,233.21 32.63,233.20 33.14,233.20 33.65,233.23 34.16,233.23 34.67,233.22 35.17,233.23 35.68,233.22 36.19,233.23 36.70,233.24 37.21,233.28 37.72,233.23 38.23,233.27 38.73,233.28 39.24,233.27 39.75,233.29 40.26,233.19 40.77,233.21 41.27,233.24 41.78,233.22 42.29,233.23 42.80,233.26 43.31,233.32 43.82,233.32 44.33,233.34 44.83,233.20 45.34,233.34 45.85,233.28 46.36,233.21 46.87,233.28 47.38,233.18 47.88,233.37 48.39,233.34 48.90,233.20 49.41,233.34 49.92,233.17 50.42,233.17 50.93,233.24 51.44,233.38 51.95,233.38 52.46,233.18 52.97,233.16 53.48,233.27 53.98,233.36 54.49,233.24 55.00,233.30 55.50,233.36 56.00,233.22 56.50,233.24 57.00,233.17 57.50,233.25 58.00,233.07 58.50,232.97 59.00,233.16 59.50,233.26 60.00,233.09 60.50,232.87 61.00,232.76 61.50,232.79 62.00,232.80 62.52,233.17 63.04,232.37 63.56,232.63 64.08,231.86 64.60,232.51 65.12,232.39 65.64,231.76 66.16,232.54 66.68,232.38 67.20,231.90 67.80,231.65 68.40,230.73 69.00,229.65 69.60,228.90 70.11,228.14 70.63,228.75 71.14,227.19 71.66,228.84 72.17,226.90 72.69,228.36 73.20,227.00 73.73,227.09 74.26,226.15 74.79,223.85 75.31,224.45 75.84,224.63 76.37,223.46 76.90,223.40 77.40,221.78 77.90,222.87 78.40,222.26 78.90,221.69 79.40,220.75 79.90,221.00 80.40,218.51 80.90,218.03 81.40,219.21 81.90,217.12 82.40,216.10 83.00,215.53 83.60,211.20 84.20,208.05 84.80,209.88 85.40,207.60 86.00,207.65 86.60,205.34 87.20,201.50 87.85,202.04 88.50,199.10 89.10,195.97 89.70,194.28 90.30,195.49 90.90,194.20 91.50,194.62 92.10,188.48 92.70,189.30 93.30,185.57 93.90,189.75 94.50,184.50 95.15,181.60 95.80,183.90 96.40,179.09 97.00,176.60 97.60,186.00 98.20,195.00 98.80,186.00 99.40,180.80 99.95,183.34 100.50,180.20 101.10,183.06 101.70,180.55 102.30,183.20 102.90,187.86 103.50,186.61 104.10,190.50 104.60,193.47 105.10,194.47 105.60,193.46 106.10,195.29 106.60,194.80 107.10,196.32 107.60,194.35 108.10,199.16 108.60,195.36 109.10,197.26 109.60,200.30 110.20,205.00 110.80,206.40 111.33,207.01 111.86,206.80 112.39,208.83 112.91,208.21 113.44,208.68 113.97,210.23 114.50,210.60 115.10,211.19 115.70,211.49 116.30,214.23 116.90,214.90 117.50,215.67 118.10,217.73 118.70,218.07 119.30,219.70 119.83,221.05 120.36,221.71 120.89,221.02 121.41,223.08 121.94,222.98 122.47,224.96 123.00,224.60 123.51,224.80 124.03,226.40 124.54,226.10 125.06,227.47 125.57,228.14 126.09,228.15 126.60,228.30 127.13,228.78 127.66,227.35 128.19,228.81 128.71,229.72 129.24,230.30 129.77,230.91 130.30,230.70 130.83,229.93 131.37,231.20 131.90,231.73 132.43,230.23 132.97,230.67 133.50,232.00 134.03,231.23 134.57,232.04 135.10,231.70 135.63,231.34 136.15,231.97 136.68,231.74 137.21,231.81 137.73,231.90 138.26,232.06 138.79,232.02 139.31,231.79 139.84,232.53 140.37,232.31 140.89,232.40 141.42,232.31 141.95,232.55 142.47,232.55 143.00,232.60 143.50,232.69 144.00,232.59 144.50,232.71 145.00,232.63 145.50,232.87 146.00,232.83 146.50,232.86 147.00,232.76 147.50,232.71 148.00,232.85 148.50,232.85 149.00,232.85 149.50,232.85 150.00,232.85 150.50,232.84 151.00,232.84 151.51,232.84 152.01,232.83 152.51,232.83 153.01,232.83 153.51,232.83 154.02,232.82 154.52,232.82 155.02,232.82 155.52,232.82 156.02,232.81 156.53,232.81 157.03,232.81 157.53,232.80 158.03,232.80 158.53,232.80 159.04,232.80 159.54,232.79 160.04,232.79 160.54,232.79 161.04,232.79 161.55,232.78 162.05,232.78 162.55,232.78 163.05,232.77 163.55,232.77 164.06,232.77 164.56,232.77 165.06,232.76 165.56,232.76 166.06,232.76 166.57,232.76 167.07,232.75 167.57,232.75 168.07,232.75 168.57,232.74 169.08,232.74 169.58,232.74 170.08,232.74 170.58,232.73 171.08,232.73 171.59,232.73 172.09,232.73 172.59,232.72 173.09,232.72 173.59,232.72 174.10,232.71 174.60,232.71 175.10,232.71 175.60,232.71 176.10,232.70 176.61,232.70 177.11,232.70 177.61,232.70 178.11,232.69 178.61,232.69 179.12,232.69 179.62,232.68 180.12,232.68 180.62,232.68 181.12,232.68 181.63,232.67 182.13,232.67 182.63,232.67 183.13,232.67 183.63,232.66 184.14,232.66 184.64,232.66 185.14,232.65 185.64,232.65 186.14,232.65 186.65,232.65 187.15,232.64 187.65,232.64 188.15,232.64 188.65,232.64 189.16,232.63 189.66,232.63 190.16,232.63 190.66,232.62 191.16,232.62 191.67,232.62 192.17,232.62 192.67,232.61 193.17,232.61 193.67,232.61 194.18,232.61 194.68,232.60 195.18,232.60 195.68,232.60 196.18,232.60 196.69,232.59 197.19,232.59 197.69,232.59 198.19,232.58 198.69,232.58 199.20,232.58 199.70,232.58 200.20,232.57 200.70,232.57 201.20,232.57 201.71,232.49 202.21,232.56 202.71,232.56 203.21,232.56 203.71,232.55 204.22,232.55 204.72,232.55 205.22,232.55 205.72,232.51 206.22,232.54 206.73,232.54 207.23,232.54 207.73,232.53 208.23,232.53 208.73,232.53 209.24,232.52 209.74,232.52 210.24,232.52 210.74,232.52 211.24,232.51 211.75,232.51 212.25,232.51 212.75,232.51 213.25,232.50 213.75,232.50 214.26,232.50 214.76,232.49 215.26,232.49 215.76,232.49 216.26,232.49 216.77,232.48 217.27,232.48 217.77,232.48 218.27,232.48 218.77,232.47 219.28,232.47 219.78,232.47 220.28,232.46 220.78,232.46 221.28,232.46 221.79,232.46 222.29,232.45 222.79,232.45 223.29,232.45 223.79,232.45 224.30,232.44 224.80,232.44 225.30,232.44 225.80,232.43 226.30,232.43 226.81,232.43 227.31,232.43 227.81,232.42 228.31,232.42 228.81,232.42 229.32,232.42 229.82,232.41 230.32,232.41 230.82,232.41 231.32,232.40 231.83,232.40 232.33,232.40 232.83,232.40 233.33,232.39 233.83,232.39 234.34,232.36 234.84,232.39 235.34,232.38 235.84,232.38 236.34,232.38 236.85,232.37 237.35,232.37 237.85,232.37 238.35,232.37 238.85,232.36 239.36,232.36 239.86,232.36 240.36,232.36 240.86,232.35 241.36,232.35 241.87,232.35 242.37,232.35 242.87,232.34 243.37,232.34 243.87,232.34 244.38,232.33 244.88,232.33 245.38,232.33 245.88,232.33 246.38,232.32 246.89,232.32 247.39,232.32 247.89,232.32 248.39,232.31 248.89,232.31 249.40,232.31 249.90,232.30 250.40,232.70"/>
<polyline fill="none" stroke="#111" stroke-width="1.30" stroke-linejoin="round" points="287.60,232.00 287.90,228.50 288.45,230.15 289.00,231.80 289.50,231.79 290.00,231.77 290.50,231.75 291.00,231.76 291.50,231.75 292.00,231.73 292.50,231.70 293.00,231.69 293.50,231.71 294.00,231.70 294.50,231.65 295.00,231.68 295.50,231.68 296.00,231.64 296.50,231.62 297.00,231.61 297.50,231.65 298.00,231.59 298.50,231.63 299.00,231.62 299.50,231.55 300.00,231.55 300.50,231.47 301.00,231.41 301.50,231.50 302.00,231.49 302.50,231.52 303.00,231.50 303.50,231.54 304.00,231.43 304.50,231.42 305.00,231.45 305.50,231.37 306.00,231.45 306.50,231.40 307.00,231.27 307.50,231.54 308.00,231.40 308.50,231.80 309.00,231.93 309.50,231.12 310.00,231.30 310.51,231.46 311.02,231.69 311.53,230.80 312.04,231.70 312.55,230.97 313.06,230.86 313.57,231.08 314.08,231.07 314.59,231.77 315.10,231.13 315.61,231.66 316.12,230.68 316.63,231.28 317.14,231.28 317.65,231.24 318.16,230.61 318.67,230.89 319.18,231.29 319.69,230.77 320.20,231.10 320.70,230.84 321.20,230.52 321.70,230.24 322.20,230.97 322.70,229.43 323.20,229.14 323.70,228.71 324.20,229.82 324.70,229.71 325.20,229.31 325.70,228.87 326.20,228.04 326.70,227.80 327.26,226.82 327.81,227.92 328.37,226.32 328.93,227.00 329.49,226.68 330.04,225.94 330.60,225.20 331.30,220.00 332.00,224.50 332.52,223.52 333.04,224.95 333.56,224.63 334.08,220.97 334.60,222.60 335.12,222.59 335.64,222.10 336.16,220.84 336.68,219.39 337.20,218.70 337.83,216.59 338.47,214.20 339.10,213.50 339.60,212.28 340.10,209.78 340.60,208.06 341.10,206.90 341.73,204.09 342.37,203.67 343.00,204.30 343.50,204.14 344.00,202.39 344.50,199.13 345.00,197.80 345.63,196.19 346.27,192.92 346.90,190.00 347.40,184.93 347.90,188.25 348.40,182.34 348.90,183.50 349.42,185.14 349.94,183.23 350.46,184.39 350.98,180.91 351.50,182.20 352.00,183.32 352.50,176.58 353.00,179.60 353.50,175.60 354.05,172.14 354.60,169.10 355.25,173.92 355.90,177.00 356.42,178.68 356.94,174.46 357.46,174.54 357.98,172.28 358.50,173.70 359.15,177.61 359.80,185.40 360.43,183.87 361.07,182.64 361.70,180.90 362.35,191.73 363.00,190.00 363.52,189.28 364.04,194.10 364.56,194.04 365.08,194.75 365.60,196.50 366.10,196.30 366.60,196.18 367.10,200.44 367.60,202.99 368.10,204.09 368.60,204.99 369.10,204.97 369.60,205.60 370.13,205.16 370.67,207.22 371.20,207.39 371.73,208.57 372.27,209.83 372.80,212.20 373.30,213.35 373.80,214.92 374.30,215.70 374.80,218.70 375.32,221.09 375.84,221.24 376.36,218.68 376.88,222.93 377.40,223.90 377.92,223.18 378.44,225.32 378.96,224.08 379.48,225.57 380.00,224.51 380.52,226.94 381.04,226.09 381.56,225.85 382.08,227.12 382.60,227.10 383.12,227.68 383.64,226.98 384.16,227.16 384.68,228.37 385.20,228.16 385.72,228.85 386.24,229.34 386.76,228.59 387.28,228.48 387.80,229.10 388.32,229.13 388.84,229.82 389.36,227.83 389.88,229.44 390.40,229.79 390.92,230.13 391.44,230.17 391.96,230.10 392.48,230.14 393.00,230.10 393.50,230.70 394.00,230.88 394.50,230.60 395.00,230.33 395.50,230.02 396.00,229.94 396.50,229.84 397.00,229.99 397.50,231.06 398.00,230.98 398.50,230.83 399.00,231.11 399.50,230.72 400.00,230.70 400.50,230.76 401.00,230.71 401.50,230.59 402.00,230.69 402.50,230.60 403.00,230.62 403.50,230.75 404.00,230.64 404.50,230.40 405.00,230.64 405.51,230.57 406.01,230.46 406.51,230.71 407.01,230.76 407.51,230.79 408.01,230.75 408.51,230.82 409.01,230.80 409.51,230.72 410.01,230.73 410.51,230.63 411.01,230.81 411.51,230.55 412.01,230.62 412.51,230.74 413.01,230.81 413.51,230.64 414.01,230.80 414.51,230.80 415.01,230.75 415.51,230.69 416.01,230.64 416.52,230.75 417.02,230.70 417.52,230.61 418.02,230.55 418.52,230.81 419.02,230.57 419.52,230.78 420.02,230.53 420.52,230.72 421.02,230.54 421.52,230.54 422.02,230.57 422.52,230.80 423.02,230.77 423.52,230.64 424.02,230.54 424.52,230.82 425.02,230.79 425.52,230.73 426.02,230.74 426.52,230.85 427.02,230.80 427.53,230.75 428.03,230.71 428.53,230.62 429.03,230.60 429.53,230.53 430.03,230.61 430.53,230.56 431.03,230.55 431.53,230.57 432.03,230.58 432.53,230.72 433.03,230.67 433.53,230.62 434.03,230.82 434.53,230.59 435.03,230.55 435.53,230.61 436.03,230.71 436.53,230.54 437.03,230.57 437.53,230.52 438.04,230.57 438.54,230.52 439.04,230.61 439.54,230.70 440.04,230.81 440.54,230.58 441.04,230.80 441.54,230.81 442.04,230.78 442.54,230.71 443.04,230.54 443.54,230.55 444.04,230.67 444.54,230.62 445.04,230.76 445.54,230.52 446.04,230.57 446.54,230.68 447.04,230.69 447.54,230.62 448.04,230.79 448.54,230.61 449.05,230.30 449.55,230.59 450.05,230.60 450.55,230.79 451.05,230.74 451.55,230.55 452.05,230.69 452.55,230.50 453.05,230.64 453.55,230.78 454.05,230.56 454.55,230.68 455.05,230.52 455.55,230.70 456.05,230.75 456.55,230.33 457.05,230.61 457.55,230.67 458.05,230.54 458.55,230.57 459.05,230.66 459.56,230.71 460.06,230.75 460.56,230.67 461.06,230.67 461.56,230.50 462.06,230.66 462.56,230.64 463.06,230.51 463.56,230.55 464.06,230.66 464.56,230.74 465.06,230.59 465.56,230.43 466.06,230.65 466.56,230.51 467.06,230.72 467.56,230.63 468.06,230.69 468.56,230.71 469.06,230.70 469.56,230.51 470.06,230.51 470.57,230.69 471.07,230.69 471.57,230.68 472.07,230.68 472.57,230.51 473.07,230.67 473.57,230.64 474.07,230.64 474.57,230.53 475.07,230.66 475.57,230.50 476.07,230.65 476.57,230.65 477.07,230.63 477.57,230.52 478.07,230.63 478.57,230.39 479.07,230.63 479.57,230.60 480.07,230.58 480.57,230.61 481.08,230.55 481.58,230.53 482.08,230.60 482.58,230.60 483.08,230.53 483.58,230.59 484.08,230.59 484.58,230.57 485.08,230.57 485.58,230.57 486.08,230.57 486.58,230.57 487.08,230.56 487.58,230.56 488.08,230.56 488.58,230.50 489.08,230.21 489.58,230.55 490.08,230.52 490.58,230.54 491.08,230.53 491.58,230.53 492.09,230.53 492.59,230.48 493.09,230.52 493.59,230.51 494.09,230.48 494.59,230.51 495.09,230.50 495.59,230.50 496.09,230.50 496.59,230.49 497.09,230.49 497.59,230.48 498.09,230.48 498.59,230.48 499.09,230.47 499.59,230.47 500.09,230.46 500.59,230.46 501.09,230.46 501.59,230.45 502.09,230.45 502.59,230.45 503.10,230.44 503.60,230.44 504.10,230.43 504.60,230.43 505.10,230.43 505.60,230.42 506.10,230.42 506.60,230.41 507.10,230.41 507.60,230.41 508.10,230.60"/>
<line x1="42.50" y1="288.50" x2="268.50" y2="288.40" stroke="#444" stroke-width="1.30"/>
<line x1="46.00" y1="288.50" x2="46.30" y2="397.40" stroke="#444" stroke-width="1.30"/>
<line x1="268.50" y1="288.40" x2="268.80" y2="397.10" stroke="#444" stroke-width="1.30"/>
<line x1="42.80" y1="397.40" x2="268.80" y2="397.10" stroke="#444" stroke-width="1.50"/>
<line x1="42.58" y1="315.73" x2="46.08" y2="315.73" stroke="#444" stroke-width="1.10"/>
<line x1="42.65" y1="342.95" x2="46.15" y2="342.95" stroke="#444" stroke-width="1.10"/>
<line x1="42.72" y1="370.17" x2="46.22" y2="370.17" stroke="#444" stroke-width="1.10"/>
<line x1="46.30" y1="397.40" x2="46.30" y2="400.70" stroke="#444" stroke-width="1.10"/>
<line x1="68.01" y1="397.37" x2="68.01" y2="400.67" stroke="#444" stroke-width="1.10"/>
<line x1="89.72" y1="397.34" x2="89.72" y2="400.64" stroke="#444" stroke-width="1.10"/>
<line x1="111.43" y1="397.31" x2="111.43" y2="400.61" stroke="#444" stroke-width="1.10"/>
<line x1="133.14" y1="397.28" x2="133.14" y2="400.58" stroke="#444" stroke-width="1.10"/>
<line x1="154.85" y1="397.25" x2="154.85" y2="400.55" stroke="#444" stroke-width="1.10"/>
<line x1="176.56" y1="397.22" x2="176.56" y2="400.52" stroke="#444" stroke-width="1.10"/>
<line x1="198.27" y1="397.20" x2="198.27" y2="400.50" stroke="#444" stroke-width="1.10"/>
<line x1="219.98" y1="397.17" x2="219.98" y2="400.47" stroke="#444" stroke-width="1.10"/>
<line x1="241.69" y1="397.14" x2="241.69" y2="400.44" stroke="#444" stroke-width="1.10"/>
<line x1="263.40" y1="397.11" x2="263.40" y2="400.41" stroke="#444" stroke-width="1.10"/>
<text transform="translate(46.12,277.50) scale(1.1189,1.0000)" font-family="Liberation Sans" font-weight="normal" font-size="6.69" fill="#1c1c1c" stroke="#1c1c1c" stroke-width="0.45">G</text>
<text transform="translate(53.04,277.50) scale(1.2000,1.0000)" font-family="Liberation Sans" font-weight="normal" font-size="6.69" fill="#1c1c1c" stroke="#1c1c1c" stroke-width="0.42">:</text>
<text transform="translate(59.58,277.50) scale(1.2477,1.0000)" font-family="Liberation Sans" font-weight="normal" font-size="6.69" fill="#1c1c1c" stroke="#1c1c1c" stroke-width="0.40">P</text>
<text transform="translate(65.20,277.50) scale(1.1168,1.0000)" font-family="Liberation Sans" font-weight="normal" font-size="6.69" fill="#1c1c1c" stroke="#1c1c1c" stroke-width="0.45">M</text>
<text transform="translate(71.74,277.50) scale(1.1744,1.0000)" font-family="Liberation Sans" font-weight="normal" font-size="6.69" fill="#1c1c1c" stroke="#1c1c1c" stroke-width="0.43">T</text>
<text transform="translate(77.49,277.50) scale(1.0525,1.0000)" font-family="Liberation Sans" font-weight="normal" font-size="6.69" fill="#1c1c1c" stroke="#1c1c1c" stroke-width="0.48">1</text>
<text transform="translate(82.14,277.50) scale(1.4278,0.9897)" font-family="Liberation Sans" font-weight="normal" font-size="6.69" fill="#1c1c1c" stroke="#1c1c1c" stroke-width="0.35">υ</text>
<text transform="translate(88.12,277.50) scale(1.3960,0.9744)" font-family="Liberation Sans" font-weight="normal" font-size="6.69" fill="#1c1c1c" stroke="#1c1c1c" stroke-width="0.36">s</text>
<text transform="translate(93.19,277.50) scale(1.3586,1.0000)" font-family="Liberation Sans" font-weight="normal" font-size="6.69" fill="#1c1c1c" stroke="#1c1c1c" stroke-width="0.37">F</text>
<text transform="translate(99.50,277.50) scale(1.1535,1.0000)" font-family="Liberation Sans" font-weight="normal" font-size="6.69" fill="#1c1c1c" stroke="#1c1c1c" stroke-width="0.43">S</text>
<text transform="translate(30.93,357.01) rotate(-90) scale(1.3934,1)" font-family="Liberation Sans" font-weight="normal" font-size="7.20" fill="#1c1c1c" stroke="#1c1c1c" stroke-width="0.35">Count</text>
<text transform="translate(40.32,300.27) rotate(-90) scale(1.1512,1)" font-family="Liberation Mono" font-weight="bold" font-size="7.96" fill="#1c1c1c" stroke="#1c1c1c" stroke-width="0.30">50</text>
<text transform="translate(40.32,400.07) rotate(-90) scale(1.0358,1)" font-family="Liberation Mono" font-weight="bold" font-size="7.96" fill="#1c1c1c" stroke="#1c1c1c" stroke-width="0.30">0</text>
<text transform="translate(43.09,409.74) scale(1.3362,1)" font-family="Liberation Mono" font-weight="bold" font-size="6.63" fill="#1c1c1c" stroke="#1c1c1c" stroke-width="0.30">0</text>
<text transform="translate(77.44,409.74) scale(1.4118,1)" font-family="Liberation Mono" font-weight="bold" font-size="6.63" fill="#1c1c1c" stroke="#1c1c1c" stroke-width="0.30">200</text>
<text transform="translate(120.92,409.74) scale(1.4349,1)" font-family="Liberation Mono" font-weight="bold" font-size="6.63" fill="#1c1c1c" stroke="#1c1c1c" stroke-width="0.30">400</text>
<text transform="translate(164.41,409.74) scale(1.4574,1)" font-family="Liberation Mono" font-weight="bold" font-size="6.63" fill="#1c1c1c" stroke="#1c1c1c" stroke-width="0.30">600</text>
<text transform="translate(208.24,409.74) scale(1.4507,1)" font-family="Liberation Mono" font-weight="bold" font-size="6.63" fill="#1c1c1c" stroke="#1c1c1c" stroke-width="0.30">800</text>
<text transform="translate(246.89,409.74) scale(1.3655,1)" font-family="Liberation Mono" font-weight="bold" font-size="6.63" fill="#1c1c1c" stroke="#1c1c1c" stroke-width="0.30">1000</text>
<text transform="translate(130.61,416.50) scale(1.6705,1)" font-family="Liberation Mono" font-weight="bold" font-size="5.79" fill="#1c1c1c" stroke="#1c1c1c" stroke-width="0.30">PI (PMT4)</text>
<text transform="translate(250.70,304.20) scale(0.9448,1)" font-family="Liberation Sans" font-weight="bold" font-size="12.94" fill="#111">A</text>
<line x1="292.70" y1="288.31" x2="518.20" y2="287.40" stroke="#444" stroke-width="1.30"/>
<line x1="296.20" y1="288.30" x2="296.50" y2="397.30" stroke="#444" stroke-width="1.30"/>
<line x1="518.20" y1="287.40" x2="518.40" y2="396.30" stroke="#444" stroke-width="1.30"/>
<line x1="293.00" y1="397.32" x2="518.40" y2="396.30" stroke="#444" stroke-width="1.50"/>
<line x1="292.77" y1="315.55" x2="296.27" y2="315.55" stroke="#444" stroke-width="1.10"/>
<line x1="292.85" y1="342.80" x2="296.35" y2="342.80" stroke="#444" stroke-width="1.10"/>
<line x1="292.93" y1="370.05" x2="296.43" y2="370.05" stroke="#444" stroke-width="1.10"/>
<line x1="296.50" y1="397.30" x2="296.50" y2="400.60" stroke="#444" stroke-width="1.10"/>
<line x1="318.11" y1="397.20" x2="318.11" y2="400.50" stroke="#444" stroke-width="1.10"/>
<line x1="339.72" y1="397.11" x2="339.72" y2="400.41" stroke="#444" stroke-width="1.10"/>
<line x1="361.33" y1="397.01" x2="361.33" y2="400.31" stroke="#444" stroke-width="1.10"/>
<line x1="382.94" y1="396.91" x2="382.94" y2="400.21" stroke="#444" stroke-width="1.10"/>
<line x1="404.55" y1="396.81" x2="404.55" y2="400.11" stroke="#444" stroke-width="1.10"/>
<line x1="426.16" y1="396.72" x2="426.16" y2="400.02" stroke="#444" stroke-width="1.10"/>
<line x1="447.77" y1="396.62" x2="447.77" y2="399.92" stroke="#444" stroke-width="1.10"/>
<line x1="469.38" y1="396.52" x2="469.38" y2="399.82" stroke="#444" stroke-width="1.10"/>
<line x1="490.99" y1="396.42" x2="490.99" y2="399.72" stroke="#444" stroke-width="1.10"/>
<line x1="512.60" y1="396.33" x2="512.60" y2="399.63" stroke="#444" stroke-width="1.10"/>
<text transform="translate(296.32,277.30) scale(1.1189,1.0000)" font-family="Liberation Sans" font-weight="normal" font-size="6.69" fill="#1c1c1c" stroke="#1c1c1c" stroke-width="0.45">G</text>
<text transform="translate(303.24,277.30) scale(1.2000,1.0000)" font-family="Liberation Sans" font-weight="normal" font-size="6.69" fill="#1c1c1c" stroke="#1c1c1c" stroke-width="0.42">:</text>
<text transform="translate(309.78,277.30) scale(1.2477,1.0000)" font-family="Liberation Sans" font-weight="normal" font-size="6.69" fill="#1c1c1c" stroke="#1c1c1c" stroke-width="0.40">P</text>
<text transform="translate(315.40,277.30) scale(1.1168,1.0000)" font-family="Liberation Sans" font-weight="normal" font-size="6.69" fill="#1c1c1c" stroke="#1c1c1c" stroke-width="0.45">M</text>
<text transform="translate(321.94,277.30) scale(1.1744,1.0000)" font-family="Liberation Sans" font-weight="normal" font-size="6.69" fill="#1c1c1c" stroke="#1c1c1c" stroke-width="0.43">T</text>
<text transform="translate(327.69,277.30) scale(1.0525,1.0000)" font-family="Liberation Sans" font-weight="normal" font-size="6.69" fill="#1c1c1c" stroke="#1c1c1c" stroke-width="0.48">1</text>
<text transform="translate(332.34,277.30) scale(1.4278,0.9897)" font-family="Liberation Sans" font-weight="normal" font-size="6.69" fill="#1c1c1c" stroke="#1c1c1c" stroke-width="0.35">υ</text>
<text transform="translate(338.32,277.30) scale(1.3960,0.9744)" font-family="Liberation Sans" font-weight="normal" font-size="6.69" fill="#1c1c1c" stroke="#1c1c1c" stroke-width="0.36">s</text>
<text transform="translate(343.39,277.30) scale(1.3586,1.0000)" font-family="Liberation Sans" font-weight="normal" font-size="6.69" fill="#1c1c1c" stroke="#1c1c1c" stroke-width="0.37">F</text>
<text transform="translate(349.70,277.30) scale(1.1535,1.0000)" font-family="Liberation Sans" font-weight="normal" font-size="6.69" fill="#1c1c1c" stroke="#1c1c1c" stroke-width="0.43">S</text>
<text transform="translate(281.13,356.86) rotate(-90) scale(1.3934,1)" font-family="Liberation Sans" font-weight="normal" font-size="7.20" fill="#1c1c1c" stroke="#1c1c1c" stroke-width="0.35">Count</text>
<text transform="translate(289.62,300.06) rotate(-90) scale(1.1512,1)" font-family="Liberation Mono" font-weight="bold" font-size="7.96" fill="#1c1c1c" stroke="#1c1c1c" stroke-width="0.30">50</text>
<text transform="translate(289.62,399.97) rotate(-90) scale(1.0358,1)" font-family="Liberation Mono" font-weight="bold" font-size="7.96" fill="#1c1c1c" stroke="#1c1c1c" stroke-width="0.30">0</text>
<text transform="translate(293.29,409.64) scale(1.3362,1)" font-family="Liberation Mono" font-weight="bold" font-size="6.63" fill="#1c1c1c" stroke="#1c1c1c" stroke-width="0.30">0</text>
<text transform="translate(327.64,409.54) scale(1.4118,1)" font-family="Liberation Mono" font-weight="bold" font-size="6.63" fill="#1c1c1c" stroke="#1c1c1c" stroke-width="0.30">200</text>
<text transform="translate(371.12,409.40) scale(1.4349,1)" font-family="Liberation Mono" font-weight="bold" font-size="6.63" fill="#1c1c1c" stroke="#1c1c1c" stroke-width="0.30">400</text>
<text transform="translate(414.61,409.26) scale(1.4574,1)" font-family="Liberation Mono" font-weight="bold" font-size="6.63" fill="#1c1c1c" stroke="#1c1c1c" stroke-width="0.30">600</text>
<text transform="translate(458.44,409.12) scale(1.4507,1)" font-family="Liberation Mono" font-weight="bold" font-size="6.63" fill="#1c1c1c" stroke="#1c1c1c" stroke-width="0.30">800</text>
<text transform="translate(497.09,409.00) scale(1.3655,1)" font-family="Liberation Mono" font-weight="bold" font-size="6.63" fill="#1c1c1c" stroke="#1c1c1c" stroke-width="0.30">1000</text>
<text transform="translate(380.81,416.13) scale(1.6705,1)" font-family="Liberation Mono" font-weight="bold" font-size="5.79" fill="#1c1c1c" stroke="#1c1c1c" stroke-width="0.30">PI (PMT4)</text>
<text transform="translate(503.87,302.25) scale(1.0314,1)" font-family="Liberation Sans" font-weight="bold" font-size="12.72" fill="#111">B</text>
<line x1="42.40" y1="444.10" x2="268.70" y2="443.90" stroke="#444" stroke-width="1.30"/>
<line x1="45.90" y1="444.10" x2="46.20" y2="553.50" stroke="#444" stroke-width="1.30"/>
<line x1="268.70" y1="443.90" x2="268.60" y2="553.40" stroke="#444" stroke-width="1.30"/>
<line x1="42.70" y1="553.50" x2="268.60" y2="553.40" stroke="#444" stroke-width="1.50"/>
<line x1="42.48" y1="471.45" x2="45.98" y2="471.45" stroke="#444" stroke-width="1.10"/>
<line x1="42.55" y1="498.80" x2="46.05" y2="498.80" stroke="#444" stroke-width="1.10"/>
<line x1="42.62" y1="526.15" x2="46.12" y2="526.15" stroke="#444" stroke-width="1.10"/>
<line x1="46.20" y1="553.50" x2="46.20" y2="556.80" stroke="#444" stroke-width="1.10"/>
<line x1="67.92" y1="553.49" x2="67.92" y2="556.79" stroke="#444" stroke-width="1.10"/>
<line x1="89.64" y1="553.48" x2="89.64" y2="556.78" stroke="#444" stroke-width="1.10"/>
<line x1="111.36" y1="553.47" x2="111.36" y2="556.77" stroke="#444" stroke-width="1.10"/>
<line x1="133.08" y1="553.46" x2="133.08" y2="556.76" stroke="#444" stroke-width="1.10"/>
<line x1="154.80" y1="553.45" x2="154.80" y2="556.75" stroke="#444" stroke-width="1.10"/>
<line x1="176.52" y1="553.44" x2="176.52" y2="556.74" stroke="#444" stroke-width="1.10"/>
<line x1="198.24" y1="553.43" x2="198.24" y2="556.73" stroke="#444" stroke-width="1.10"/>
<line x1="219.96" y1="553.42" x2="219.96" y2="556.72" stroke="#444" stroke-width="1.10"/>
<line x1="241.68" y1="553.41" x2="241.68" y2="556.71" stroke="#444" stroke-width="1.10"/>
<line x1="263.40" y1="553.40" x2="263.40" y2="556.70" stroke="#444" stroke-width="1.10"/>
<text transform="translate(46.02,433.10) scale(1.1189,1.0000)" font-family="Liberation Sans" font-weight="normal" font-size="6.69" fill="#1c1c1c" stroke="#1c1c1c" stroke-width="0.45">G</text>
<text transform="translate(52.94,433.10) scale(1.2000,1.0000)" font-family="Liberation Sans" font-weight="normal" font-size="6.69" fill="#1c1c1c" stroke="#1c1c1c" stroke-width="0.42">:</text>
<text transform="translate(59.48,433.10) scale(1.2477,1.0000)" font-family="Liberation Sans" font-weight="normal" font-size="6.69" fill="#1c1c1c" stroke="#1c1c1c" stroke-width="0.40">P</text>
<text transform="translate(65.10,433.10) scale(1.1168,1.0000)" font-family="Liberation Sans" font-weight="normal" font-size="6.69" fill="#1c1c1c" stroke="#1c1c1c" stroke-width="0.45">M</text>
<text transform="translate(71.64,433.10) scale(1.1744,1.0000)" font-family="Liberation Sans" font-weight="normal" font-size="6.69" fill="#1c1c1c" stroke="#1c1c1c" stroke-width="0.43">T</text>
<text transform="translate(77.39,433.10) scale(1.0525,1.0000)" font-family="Liberation Sans" font-weight="normal" font-size="6.69" fill="#1c1c1c" stroke="#1c1c1c" stroke-width="0.48">1</text>
<text transform="translate(82.04,433.10) scale(1.4278,0.9897)" font-family="Liberation Sans" font-weight="normal" font-size="6.69" fill="#1c1c1c" stroke="#1c1c1c" stroke-width="0.35">υ</text>
<text transform="translate(88.02,433.10) scale(1.3960,0.9744)" font-family="Liberation Sans" font-weight="normal" font-size="6.69" fill="#1c1c1c" stroke="#1c1c1c" stroke-width="0.36">s</text>
<text transform="translate(93.09,433.10) scale(1.3586,1.0000)" font-family="Liberation Sans" font-weight="normal" font-size="6.69" fill="#1c1c1c" stroke="#1c1c1c" stroke-width="0.37">F</text>
<text transform="translate(99.40,433.10) scale(1.1535,1.0000)" font-family="Liberation Sans" font-weight="normal" font-size="6.69" fill="#1c1c1c" stroke="#1c1c1c" stroke-width="0.43">S</text>
<text transform="translate(30.83,512.86) rotate(-90) scale(1.3934,1)" font-family="Liberation Sans" font-weight="normal" font-size="7.20" fill="#1c1c1c" stroke="#1c1c1c" stroke-width="0.35">Count</text>
<text transform="translate(40.32,455.86) rotate(-90) scale(1.1512,1)" font-family="Liberation Mono" font-weight="bold" font-size="7.96" fill="#1c1c1c" stroke="#1c1c1c" stroke-width="0.30">50</text>
<text transform="translate(40.32,556.17) rotate(-90) scale(1.0358,1)" font-family="Liberation Mono" font-weight="bold" font-size="7.96" fill="#1c1c1c" stroke="#1c1c1c" stroke-width="0.30">0</text>
<text transform="translate(42.99,565.83) scale(1.3362,1)" font-family="Liberation Mono" font-weight="bold" font-size="6.63" fill="#1c1c1c" stroke="#1c1c1c" stroke-width="0.30">0</text>
<text transform="translate(77.34,565.86) scale(1.4118,1)" font-family="Liberation Mono" font-weight="bold" font-size="6.63" fill="#1c1c1c" stroke="#1c1c1c" stroke-width="0.30">200</text>
<text transform="translate(120.82,565.90) scale(1.4349,1)" font-family="Liberation Mono" font-weight="bold" font-size="6.63" fill="#1c1c1c" stroke="#1c1c1c" stroke-width="0.30">400</text>
<text transform="translate(164.31,565.94) scale(1.4574,1)" font-family="Liberation Mono" font-weight="bold" font-size="6.63" fill="#1c1c1c" stroke="#1c1c1c" stroke-width="0.30">600</text>
<text transform="translate(208.14,565.98) scale(1.4507,1)" font-family="Liberation Mono" font-weight="bold" font-size="6.63" fill="#1c1c1c" stroke="#1c1c1c" stroke-width="0.30">800</text>
<text transform="translate(246.79,566.02) scale(1.3655,1)" font-family="Liberation Mono" font-weight="bold" font-size="6.63" fill="#1c1c1c" stroke="#1c1c1c" stroke-width="0.30">1000</text>
<text transform="translate(130.51,572.67) scale(1.6705,1)" font-family="Liberation Mono" font-weight="bold" font-size="5.79" fill="#1c1c1c" stroke="#1c1c1c" stroke-width="0.30">PI (PMT4)</text>
<text transform="translate(253.70,458.88) scale(1.0807,1)" font-family="Liberation Sans" font-weight="normal" font-size="12.71" fill="#111" stroke="#111" stroke-width="0.60">C</text>
<line x1="292.70" y1="443.91" x2="518.40" y2="443.30" stroke="#444" stroke-width="1.30"/>
<line x1="296.20" y1="443.90" x2="296.50" y2="553.60" stroke="#444" stroke-width="1.30"/>
<line x1="518.40" y1="443.30" x2="518.30" y2="553.20" stroke="#444" stroke-width="1.30"/>
<line x1="293.00" y1="553.61" x2="518.30" y2="553.20" stroke="#444" stroke-width="1.50"/>
<line x1="292.77" y1="471.32" x2="296.27" y2="471.32" stroke="#444" stroke-width="1.10"/>
<line x1="292.85" y1="498.75" x2="296.35" y2="498.75" stroke="#444" stroke-width="1.10"/>
<line x1="292.93" y1="526.17" x2="296.43" y2="526.17" stroke="#444" stroke-width="1.10"/>
<line x1="296.50" y1="553.60" x2="296.50" y2="556.90" stroke="#444" stroke-width="1.10"/>
<line x1="318.10" y1="553.56" x2="318.10" y2="556.86" stroke="#444" stroke-width="1.10"/>
<line x1="339.70" y1="553.52" x2="339.70" y2="556.82" stroke="#444" stroke-width="1.10"/>
<line x1="361.30" y1="553.48" x2="361.30" y2="556.78" stroke="#444" stroke-width="1.10"/>
<line x1="382.90" y1="553.44" x2="382.90" y2="556.74" stroke="#444" stroke-width="1.10"/>
<line x1="404.50" y1="553.41" x2="404.50" y2="556.71" stroke="#444" stroke-width="1.10"/>
<line x1="426.10" y1="553.37" x2="426.10" y2="556.67" stroke="#444" stroke-width="1.10"/>
<line x1="447.70" y1="553.33" x2="447.70" y2="556.63" stroke="#444" stroke-width="1.10"/>
<line x1="469.30" y1="553.29" x2="469.30" y2="556.59" stroke="#444" stroke-width="1.10"/>
<line x1="490.90" y1="553.25" x2="490.90" y2="556.55" stroke="#444" stroke-width="1.10"/>
<line x1="512.50" y1="553.21" x2="512.50" y2="556.51" stroke="#444" stroke-width="1.10"/>
<text transform="translate(296.32,432.90) scale(1.1189,1.0000)" font-family="Liberation Sans" font-weight="normal" font-size="6.69" fill="#1c1c1c" stroke="#1c1c1c" stroke-width="0.45">G</text>
<text transform="translate(303.24,432.90) scale(1.2000,1.0000)" font-family="Liberation Sans" font-weight="normal" font-size="6.69" fill="#1c1c1c" stroke="#1c1c1c" stroke-width="0.42">:</text>
<text transform="translate(309.78,432.90) scale(1.2477,1.0000)" font-family="Liberation Sans" font-weight="normal" font-size="6.69" fill="#1c1c1c" stroke="#1c1c1c" stroke-width="0.40">P</text>
<text transform="translate(315.40,432.90) scale(1.1168,1.0000)" font-family="Liberation Sans" font-weight="normal" font-size="6.69" fill="#1c1c1c" stroke="#1c1c1c" stroke-width="0.45">M</text>
<text transform="translate(321.94,432.90) scale(1.1744,1.0000)" font-family="Liberation Sans" font-weight="normal" font-size="6.69" fill="#1c1c1c" stroke="#1c1c1c" stroke-width="0.43">T</text>
<text transform="translate(327.69,432.90) scale(1.0525,1.0000)" font-family="Liberation Sans" font-weight="normal" font-size="6.69" fill="#1c1c1c" stroke="#1c1c1c" stroke-width="0.48">1</text>
<text transform="translate(332.34,432.90) scale(1.4278,0.9897)" font-family="Liberation Sans" font-weight="normal" font-size="6.69" fill="#1c1c1c" stroke="#1c1c1c" stroke-width="0.35">υ</text>
<text transform="translate(338.32,432.90) scale(1.3960,0.9744)" font-family="Liberation Sans" font-weight="normal" font-size="6.69" fill="#1c1c1c" stroke="#1c1c1c" stroke-width="0.36">s</text>
<text transform="translate(343.39,432.90) scale(1.3586,1.0000)" font-family="Liberation Sans" font-weight="normal" font-size="6.69" fill="#1c1c1c" stroke="#1c1c1c" stroke-width="0.37">F</text>
<text transform="translate(349.70,432.90) scale(1.1535,1.0000)" font-family="Liberation Sans" font-weight="normal" font-size="6.69" fill="#1c1c1c" stroke="#1c1c1c" stroke-width="0.43">S</text>
<text transform="translate(281.13,512.81) rotate(-90) scale(1.3934,1)" font-family="Liberation Sans" font-weight="normal" font-size="7.20" fill="#1c1c1c" stroke="#1c1c1c" stroke-width="0.35">Count</text>
<text transform="translate(289.62,455.66) rotate(-90) scale(1.1512,1)" font-family="Liberation Mono" font-weight="bold" font-size="7.96" fill="#1c1c1c" stroke="#1c1c1c" stroke-width="0.30">50</text>
<text transform="translate(289.62,556.27) rotate(-90) scale(1.0358,1)" font-family="Liberation Mono" font-weight="bold" font-size="7.96" fill="#1c1c1c" stroke="#1c1c1c" stroke-width="0.30">0</text>
<text transform="translate(293.29,565.94) scale(1.3362,1)" font-family="Liberation Mono" font-weight="bold" font-size="6.63" fill="#1c1c1c" stroke="#1c1c1c" stroke-width="0.30">0</text>
<text transform="translate(327.64,565.92) scale(1.4118,1)" font-family="Liberation Mono" font-weight="bold" font-size="6.63" fill="#1c1c1c" stroke="#1c1c1c" stroke-width="0.30">200</text>
<text transform="translate(371.12,565.90) scale(1.4349,1)" font-family="Liberation Mono" font-weight="bold" font-size="6.63" fill="#1c1c1c" stroke="#1c1c1c" stroke-width="0.30">400</text>
<text transform="translate(414.61,565.88) scale(1.4574,1)" font-family="Liberation Mono" font-weight="bold" font-size="6.63" fill="#1c1c1c" stroke="#1c1c1c" stroke-width="0.30">600</text>
<text transform="translate(458.44,565.86) scale(1.4507,1)" font-family="Liberation Mono" font-weight="bold" font-size="6.63" fill="#1c1c1c" stroke="#1c1c1c" stroke-width="0.30">800</text>
<text transform="translate(497.09,565.84) scale(1.3655,1)" font-family="Liberation Mono" font-weight="bold" font-size="6.63" fill="#1c1c1c" stroke="#1c1c1c" stroke-width="0.30">1000</text>
<text transform="translate(380.81,572.66) scale(1.6705,1)" font-family="Liberation Mono" font-weight="bold" font-size="5.79" fill="#1c1c1c" stroke="#1c1c1c" stroke-width="0.30">PI (PMT4)</text>
<text transform="translate(502.63,458.50) scale(1.0558,1)" font-family="Liberation Sans" font-weight="bold" font-size="12.35" fill="#111">D</text>
<polyline fill="none" stroke="#111" stroke-width="1.30" stroke-linejoin="round" points="46.60,397.00 47.00,376.00 47.80,360.00 48.80,374.00 49.40,381.00 50.00,388.00 50.62,389.75 51.25,391.50 51.88,393.25 52.50,395.00 53.08,395.11 53.67,395.70 54.25,395.41 54.83,394.92 55.42,395.97 56.00,395.80 56.55,394.68 57.11,394.67 57.66,397.38 58.21,397.07 58.76,396.11 59.32,394.45 59.87,394.57 60.42,397.38 60.98,395.30 61.53,394.94 62.08,392.73 62.64,395.65 63.19,397.14 63.74,396.70 64.29,395.26 64.85,392.70 65.40,395.49 65.95,395.44 66.51,394.23 67.06,397.37 67.61,397.08 68.16,394.57 68.72,396.52 69.27,394.60 69.82,397.03 70.38,394.68 70.93,397.12 71.48,394.84 72.04,395.59 72.59,397.36 73.14,394.66 73.69,394.93 74.25,397.03 74.80,395.18 75.35,394.91 75.91,396.70 76.46,394.60 77.01,394.91 77.56,396.47 78.12,392.63 78.67,394.89 79.22,394.35 79.78,397.35 80.33,397.35 80.88,394.81 81.44,396.83 81.99,394.99 82.54,396.36 83.09,394.84 83.65,396.75 84.20,392.94 84.75,395.71 85.31,396.35 85.86,395.45 86.41,395.65 86.96,396.87 87.52,394.62 88.07,396.09 88.62,394.47 89.18,396.82 89.73,394.45 90.28,397.34 90.84,395.28 91.39,394.61 91.94,396.75 92.49,396.09 93.05,393.35 93.60,396.83 94.15,395.24 94.71,394.32 95.26,396.97 95.81,395.12 96.36,394.43 96.92,396.29 97.47,396.29 98.02,396.45 98.58,395.20 99.13,396.75 99.68,395.38 100.24,396.64 100.79,395.96 101.34,395.84 101.89,394.42 102.45,397.00 103.00,395.60 103.75,394.45 104.50,392.00 105.25,389.16 106.00,385.00 106.67,382.12 107.33,378.06 108.00,377.00 108.67,364.28 109.33,355.59 110.00,345.00 110.67,334.51 111.33,322.86 112.00,311.00 112.75,303.20 113.50,292.00 114.30,288.47 114.88,288.47 115.46,288.47 116.04,288.47 116.62,288.47 117.20,288.47 117.78,288.47 118.36,288.47 118.94,288.47 119.52,288.47 120.10,288.47 120.68,288.47 121.26,288.47 121.84,288.47 122.42,288.47 123.00,288.47 123.67,301.72 124.33,316.84 125.00,331.00 125.75,330.76 126.50,335.00 127.10,338.30 127.70,339.64 128.30,345.00 128.87,349.87 129.43,354.06 130.00,352.00 130.75,350.13 131.50,356.00 132.05,361.32 132.60,352.84 133.15,351.79 133.70,363.06 134.25,354.80 134.80,359.00 135.43,357.53 136.05,360.07 136.68,361.93 137.30,363.00 137.90,365.87 138.50,351.30 139.10,358.34 139.70,360.00 140.25,362.61 140.80,359.76 141.35,362.68 141.90,361.66 142.45,366.16 143.00,364.00 143.61,366.91 144.22,359.67 144.84,365.35 145.45,367.20 146.06,365.92 146.68,363.74 147.29,358.91 147.90,364.00 148.49,366.64 149.07,362.52 149.66,367.30 150.24,366.88 150.83,365.07 151.41,379.66 152.00,367.00 152.64,362.47 153.28,366.68 153.92,363.33 154.56,367.76 155.20,363.00 155.79,368.49 156.37,366.27 156.96,367.83 157.54,367.85 158.13,364.45 158.71,372.84 159.30,369.00 159.91,369.23 160.53,367.01 161.14,372.07 161.75,364.45 162.36,368.86 162.97,359.35 163.59,376.23 164.20,368.00 164.75,370.15 165.30,368.38 165.85,372.86 166.40,371.04 166.95,373.29 167.50,370.00 168.11,371.43 168.72,368.67 169.34,372.07 169.95,365.24 170.56,372.10 171.18,369.43 171.79,371.03 172.40,367.00 173.06,372.94 173.72,365.35 174.38,363.78 175.04,353.73 175.70,361.00 176.34,360.38 176.98,362.73 177.62,358.50 178.26,352.91 178.90,357.00 179.53,356.02 180.15,361.82 180.78,366.94 181.40,357.00 182.00,362.86 182.60,364.37 183.20,356.89 183.80,362.50 184.46,357.82 185.12,365.23 185.78,358.53 186.44,358.60 187.10,364.00 187.65,366.41 188.20,364.15 188.75,365.10 189.30,365.61 189.85,366.50 190.40,364.50 191.00,360.36 191.60,369.24 192.20,367.06 192.80,367.40 193.60,371.81 194.40,375.60 195.03,375.77 195.65,387.95 196.28,385.78 196.90,385.40 197.50,385.91 198.10,387.08 198.70,387.68 199.30,391.90 199.96,394.83 200.62,391.61 201.28,393.59 201.94,393.28 202.60,395.20 203.20,393.27 203.80,395.70 204.40,396.52 205.00,395.80 205.55,396.33 206.11,395.39 206.66,396.67 207.21,397.18 207.77,394.88 208.32,395.03 208.87,397.07 209.43,397.09 209.98,397.04 210.53,395.71 211.09,395.62 211.64,394.54 212.19,396.69 212.74,395.68 213.30,395.55 213.85,394.93 214.40,394.54 214.96,396.58 215.51,396.73 216.06,395.55 216.62,395.81 217.17,396.59 217.72,396.86 218.28,396.52 218.83,395.56 219.38,396.78 219.94,396.49 220.49,395.56 221.04,394.69 221.60,397.16 222.15,397.07 222.70,394.64 223.26,396.99 223.81,395.07 224.36,397.16 224.92,396.17 225.47,396.48 226.02,394.57 226.58,396.42 227.13,393.22 227.68,397.16 228.23,395.16 228.79,395.93 229.34,397.00 229.89,397.08 230.45,394.28 231.00,395.51 231.55,395.51 232.11,396.72 232.66,396.05 233.21,395.79 233.77,395.54 234.32,395.88 234.87,395.21 235.43,396.22 235.98,394.58 236.53,396.02 237.09,395.57 237.64,394.65 238.19,395.54 238.75,396.37 239.30,396.56 239.85,396.36 240.41,394.15 240.96,396.92 241.51,395.72 242.07,396.61 242.62,394.81 243.17,395.69 243.72,394.65 244.28,394.84 244.83,396.23 245.38,395.19 245.94,395.59 246.49,395.88 247.04,396.96 247.60,397.13 248.15,396.53 248.70,395.44 249.26,396.27 249.81,396.03 250.36,396.45 250.92,395.16 251.47,396.86 252.02,396.92 252.58,392.89 253.13,394.78 253.68,392.41 254.24,395.93 254.79,395.48 255.34,395.06 255.90,396.42 256.45,392.42 257.00,395.66 257.56,395.52 258.11,394.92 258.66,396.05 259.21,396.46 259.77,394.99 260.32,396.01 260.87,395.35 261.43,395.63 261.98,396.60 262.53,397.11 263.09,395.07 263.64,394.74 264.19,396.37 264.75,397.11 265.30,395.80 266.40,392.00 266.95,383.50 267.50,375.00 268.40,366.00"/>
<polyline fill="none" stroke="#111" stroke-width="1.30" stroke-linejoin="round" points="296.60,396.60 297.00,366.25 298.00,374.00 298.75,381.00 299.50,388.00 300.25,390.00 301.00,392.00 301.55,392.48 302.10,391.79 302.65,394.66 303.20,394.42 303.75,394.50 304.31,395.91 304.88,393.30 305.44,396.58 306.00,395.30 306.56,394.82 307.11,395.52 307.67,395.34 308.22,395.83 308.78,394.06 309.33,396.24 309.89,394.47 310.44,395.06 311.00,395.76 311.55,395.40 312.11,395.46 312.66,396.43 313.22,397.22 313.77,395.78 314.33,395.60 314.88,393.02 315.44,396.69 315.99,394.85 316.55,395.84 317.10,394.13 317.66,394.86 318.21,396.19 318.77,393.87 319.32,395.06 319.88,394.44 320.43,394.93 320.99,394.08 321.54,394.31 322.10,393.89 322.65,394.79 323.21,393.93 323.76,394.39 324.32,395.18 324.88,395.19 325.43,394.27 325.99,394.85 326.54,395.98 327.10,393.79 327.65,396.04 328.21,391.82 328.76,397.15 329.32,396.71 329.87,393.83 330.43,396.08 330.98,395.65 331.54,395.31 332.09,395.61 332.65,396.55 333.20,394.23 333.76,396.33 334.31,396.53 334.87,395.80 335.42,394.38 335.98,394.50 336.53,397.12 337.09,394.98 337.64,395.03 338.20,395.39 338.75,396.45 339.31,395.98 339.86,395.47 340.42,396.06 340.97,394.76 341.53,395.90 342.08,393.79 342.64,396.39 343.19,396.37 343.75,395.20 344.36,395.06 344.96,396.93 345.57,393.61 346.18,395.01 346.79,393.96 347.39,393.04 348.00,393.50 348.65,393.24 349.30,390.97 349.95,390.24 350.60,391.25 351.25,390.00 351.88,388.41 352.50,388.56 353.12,386.80 353.75,386.00 354.33,382.74 354.92,384.15 355.50,379.00 356.25,369.38 357.00,360.00 357.58,350.70 358.17,344.54 358.75,335.00 359.38,323.03 360.00,310.00 360.58,302.67 361.17,295.33 361.75,288.03 362.31,288.03 362.87,288.03 363.43,288.03 363.99,288.03 364.54,288.02 365.10,288.02 365.66,288.02 366.22,288.02 366.78,288.01 367.34,288.01 367.90,288.01 368.46,288.01 369.01,288.00 369.57,288.00 370.13,288.00 370.69,288.00 371.25,288.00 371.88,298.64 372.50,310.00 373.12,314.71 373.75,321.60 374.38,328.06 375.00,335.00 375.62,342.07 376.25,345.00 376.88,337.86 377.50,350.00 378.12,349.83 378.75,358.20 379.38,337.69 380.00,356.00 380.75,359.45 381.50,362.00 382.00,373.00 382.80,362.00 383.75,355.00 384.38,354.54 385.00,355.50 385.62,357.21 386.25,360.00 386.88,357.25 387.50,362.80 388.12,358.77 388.75,362.47 389.38,366.83 390.00,367.00 390.58,370.91 391.15,356.87 391.73,371.04 392.31,370.69 392.88,369.30 393.46,367.48 394.04,367.50 394.62,371.79 395.19,366.26 395.77,373.79 396.35,365.30 396.92,373.30 397.50,370.00 398.06,367.88 398.61,375.26 399.17,370.92 399.72,379.56 400.28,361.53 400.83,362.24 401.39,367.72 401.94,368.77 402.50,363.00 403.06,355.17 403.61,363.62 404.17,353.96 404.72,368.50 405.28,368.05 405.83,368.69 406.39,368.95 406.94,371.15 407.50,372.00 408.25,366.88 409.00,366.00 409.60,365.82 410.20,367.72 410.80,367.54 411.40,364.65 412.00,368.07 412.60,352.54 413.20,364.52 413.80,368.62 414.40,360.33 415.00,365.00 415.56,365.33 416.11,366.65 416.67,367.57 417.22,364.63 417.78,366.50 418.33,362.59 418.89,364.24 419.44,365.51 420.00,362.00 420.58,363.36 421.15,356.66 421.73,363.07 422.31,366.62 422.88,361.55 423.46,354.85 424.04,359.65 424.62,363.11 425.19,357.47 425.77,362.93 426.35,358.45 426.92,359.69 427.50,358.00 428.06,357.13 428.61,358.07 429.17,355.93 429.72,365.55 430.28,358.68 430.83,357.78 431.39,364.05 431.94,363.83 432.50,364.00 433.06,365.35 433.61,363.18 434.17,370.68 434.72,366.25 435.28,363.54 435.83,364.44 436.39,366.60 436.94,372.66 437.50,369.00 438.12,369.03 438.75,371.24 439.38,367.18 440.00,378.42 440.62,384.14 441.25,378.50 441.88,377.79 442.50,380.46 443.12,381.96 443.75,385.50 444.38,387.33 445.00,388.01 445.62,391.00 446.25,391.75 446.88,390.33 447.50,391.50 448.12,393.09 448.75,391.86 449.38,394.37 450.00,394.25 450.60,394.91 451.20,395.20 451.80,396.60 452.40,394.54 453.00,395.00 453.55,396.10 454.10,395.92 454.65,394.48 455.20,392.29 455.75,394.86 456.30,394.29 456.85,395.75 457.40,395.02 457.95,393.87 458.50,395.91 459.05,395.06 459.61,396.23 460.16,393.29 460.71,395.70 461.26,395.77 461.81,395.06 462.36,393.90 462.91,394.11 463.46,395.90 464.01,396.55 464.56,394.65 465.11,393.83 465.66,396.08 466.21,395.75 466.76,395.66 467.31,393.61 467.86,396.53 468.41,395.76 468.96,395.28 469.51,394.18 470.06,395.76 470.61,395.01 471.16,395.43 471.72,395.35 472.27,391.90 472.82,393.37 473.37,393.74 473.92,395.71 474.47,394.02 475.02,396.01 475.57,396.25 476.12,396.07 476.67,395.11 477.22,395.61 477.77,395.60 478.32,395.61 478.87,396.47 479.42,396.48 479.97,394.56 480.52,393.66 481.07,395.92 481.62,396.47 482.17,393.92 482.72,396.04 483.27,395.03 483.82,395.97 484.38,393.78 484.93,395.20 485.48,396.24 486.03,394.46 486.58,393.66 487.13,394.55 487.68,395.25 488.23,394.38 488.78,395.98 489.33,395.21 489.88,395.34 490.43,395.72 490.98,394.07 491.53,394.97 492.08,394.43 492.63,393.57 493.18,394.95 493.73,396.41 494.28,394.09 494.83,393.70 495.38,396.01 495.93,393.75 496.48,395.97 497.04,395.79 497.59,393.99 498.14,393.73 498.69,395.46 499.24,396.39 499.79,395.47 500.34,395.90 500.89,393.73 501.44,395.14 501.99,396.37 502.54,395.63 503.09,395.90 503.64,395.09 504.19,395.19 504.74,394.54 505.29,395.95 505.84,392.60 506.39,394.70 506.94,396.08 507.49,395.55 508.04,395.29 508.59,391.09 509.15,394.56 509.70,393.71 510.25,395.38 510.80,395.67 511.35,393.18 511.90,396.33 512.45,393.67 513.00,393.68 513.55,395.85 514.10,392.98 514.65,394.64 515.20,394.80 516.30,392.00 517.30,380.00 518.00,373.75"/>
<polyline fill="none" stroke="#111" stroke-width="1.30" stroke-linejoin="round" points="46.30,553.20 46.80,545.00 47.47,542.81 48.15,540.62 48.83,538.44 49.50,536.25 50.10,538.70 50.70,541.15 51.30,543.60 51.90,546.05 52.50,548.50 53.25,550.25 54.00,552.00 55.00,552.60 55.58,552.43 56.17,552.73 56.75,552.38 57.33,552.35 57.92,552.13 58.50,552.14 59.08,552.84 59.67,552.26 60.25,552.35 60.83,552.82 61.42,552.83 62.00,552.60 63.00,551.00 64.00,552.60 64.55,552.91 65.10,552.41 65.65,552.56 66.20,552.61 66.75,552.46 67.30,553.05 67.85,552.67 68.40,553.33 68.96,552.54 69.51,552.29 70.06,552.41 70.61,552.34 71.16,552.66 71.71,552.63 72.26,553.49 72.81,552.81 73.36,552.19 73.91,551.34 74.46,552.42 75.01,552.29 75.56,552.96 76.11,551.81 76.66,552.04 77.21,552.70 77.76,552.75 78.31,552.86 78.87,552.35 79.42,551.24 79.97,551.22 80.52,552.50 81.07,551.57 81.62,552.45 82.17,551.49 82.72,552.53 83.27,552.77 83.82,553.08 84.37,553.48 84.92,551.32 85.47,551.67 86.02,551.19 86.57,551.90 87.12,550.98 87.67,552.20 88.22,552.25 88.78,552.62 89.33,551.00 89.88,553.22 90.43,551.55 90.98,553.05 91.53,552.38 92.08,551.49 92.63,551.37 93.18,550.93 93.73,551.05 94.28,553.48 94.83,551.29 95.38,552.23 95.93,551.53 96.48,551.12 97.03,551.04 97.58,551.31 98.13,549.38 98.69,550.98 99.24,552.25 99.79,551.84 100.34,551.46 100.89,550.80 101.44,553.02 101.99,553.06 102.54,553.08 103.09,550.86 103.64,550.79 104.19,550.38 104.74,552.39 105.29,551.98 105.84,551.76 106.39,552.24 106.94,550.53 107.49,553.10 108.04,551.53 108.60,550.91 109.15,551.20 109.70,553.05 110.25,550.50 110.80,553.47 111.35,552.69 111.90,552.16 112.45,552.41 113.00,551.80 113.65,553.47 114.30,549.80 114.95,548.90 115.60,547.43 116.25,547.50 116.88,545.70 117.50,543.09 118.12,543.45 118.75,540.00 119.33,537.35 119.92,530.59 120.50,527.50 121.17,520.01 121.83,509.89 122.50,502.50 123.25,486.92 124.00,470.00 124.75,458.75 125.50,447.50 126.25,444.10 126.81,444.10 127.38,444.10 127.94,444.10 128.50,444.10 129.06,444.10 129.62,444.10 130.19,444.10 130.75,444.10 131.31,444.10 131.88,444.10 132.44,444.10 133.00,444.10 134.00,465.00 134.75,475.63 135.50,485.00 136.25,488.95 137.00,500.00 137.62,503.68 138.25,507.50 138.75,493.00 139.38,494.38 140.00,512.00 140.62,509.26 141.25,510.96 141.88,514.43 142.50,512.90 143.12,508.65 143.75,509.00 144.38,502.94 145.00,504.05 145.62,514.68 146.25,512.82 146.88,507.17 147.50,507.00 148.12,505.42 148.75,504.21 149.38,514.52 150.00,513.00 150.62,521.00 151.25,512.05 151.88,510.64 152.50,517.00 153.12,513.70 153.75,526.07 154.38,520.85 155.00,519.00 155.56,520.23 156.11,515.71 156.67,511.43 157.22,521.26 157.78,523.24 158.33,519.44 158.89,520.94 159.44,520.34 160.00,521.50 160.56,521.21 161.11,520.42 161.67,526.49 162.22,530.40 162.78,527.20 163.33,536.39 163.89,522.35 164.44,536.50 165.00,524.00 165.62,530.16 166.25,529.05 166.88,524.68 167.50,524.50 168.06,516.64 168.61,527.47 169.17,529.72 169.72,526.84 170.28,530.57 170.83,531.71 171.39,527.06 171.94,528.22 172.50,527.00 173.12,529.41 173.75,530.00 174.38,528.65 175.00,524.00 175.62,518.95 176.25,522.94 176.88,524.98 177.50,521.50 178.06,523.87 178.61,521.26 179.17,520.13 179.72,523.15 180.28,520.69 180.83,519.16 181.39,520.08 181.94,528.31 182.50,524.00 183.08,527.14 183.65,531.13 184.23,534.10 184.81,520.92 185.38,524.36 185.96,521.05 186.54,524.71 187.12,527.53 187.69,514.11 188.27,527.14 188.85,521.81 189.42,524.70 190.00,525.50 190.60,528.61 191.20,533.00 192.20,525.00 192.97,522.00 193.75,522.00 194.38,516.33 195.00,514.46 195.62,511.12 196.25,514.00 196.88,522.94 197.50,513.59 198.12,513.87 198.75,506.46 199.38,509.64 200.00,511.00 200.62,506.72 201.25,506.30 201.88,506.91 202.50,504.00 203.12,506.34 203.75,501.97 204.38,503.14 205.00,499.00 205.67,506.05 206.33,503.70 207.00,505.00 207.58,504.88 208.17,510.99 208.75,514.00 209.38,508.71 210.00,516.47 210.62,517.57 211.25,513.50 211.88,519.34 212.50,529.45 213.12,519.31 213.75,525.00 214.38,525.69 215.00,521.88 215.62,535.08 216.25,539.00 216.88,541.74 217.50,550.76 218.12,542.71 218.75,547.00 219.38,547.91 220.00,549.99 220.62,552.47 221.25,549.58 221.88,547.97 222.50,550.00 223.08,551.87 223.67,547.37 224.25,549.92 224.83,551.20 225.42,550.46 226.00,551.80 226.56,549.92 227.11,551.23 227.67,553.07 228.23,551.77 228.78,551.09 229.34,550.72 229.89,550.58 230.45,550.89 231.01,548.04 231.56,552.38 232.12,552.26 232.68,550.77 233.23,552.14 233.79,550.76 234.35,551.82 234.90,552.34 235.46,550.57 236.01,551.78 236.57,552.08 237.13,551.21 237.68,553.41 238.24,551.62 238.80,552.59 239.35,550.39 239.91,553.02 240.46,552.02 241.02,552.30 241.58,552.18 242.13,550.67 242.69,553.41 243.25,553.41 243.80,549.01 244.36,550.61 244.92,552.04 245.47,552.83 246.03,551.89 246.58,551.60 247.14,551.60 247.70,552.99 248.25,552.36 248.81,552.78 249.37,552.70 249.92,551.95 250.48,550.70 251.04,550.46 251.59,552.20 252.15,552.55 252.70,550.80 253.26,551.88 253.82,550.37 254.37,553.01 254.93,552.18 255.49,550.43 256.04,553.39 256.60,550.25 257.15,550.27 257.71,551.15 258.27,552.33 258.82,551.43 259.38,550.58 259.94,550.34 260.49,552.34 261.05,552.12 261.61,552.67 262.16,548.19 262.72,550.34 263.27,551.20 263.83,552.56 264.39,549.39 264.94,552.34 265.50,551.60 266.40,548.00 267.20,538.30 267.80,516.15 268.40,494.00"/>
<polyline fill="none" stroke="#111" stroke-width="1.30" stroke-linejoin="round" points="296.30,552.80 296.60,534.00 297.32,534.75 298.03,535.50 298.75,536.25 299.33,539.17 299.92,542.08 300.50,545.00 301.17,546.67 301.83,548.33 302.50,550.00 303.12,550.15 303.75,551.25 304.38,550.98 305.00,552.00 305.55,552.64 306.10,551.46 306.66,551.71 307.21,550.94 307.76,553.09 308.31,551.33 308.86,553.58 309.42,551.06 309.97,550.95 310.52,550.83 311.07,553.29 311.62,553.32 312.18,552.27 312.73,553.57 313.28,553.57 313.83,552.00 314.39,551.83 314.94,552.78 315.49,550.87 316.04,550.83 316.59,550.66 317.15,550.89 317.70,550.83 318.25,552.46 318.80,551.82 319.35,551.77 319.91,550.83 320.46,551.21 321.01,550.67 321.56,551.91 322.11,551.77 322.67,551.67 323.22,550.61 323.77,551.56 324.32,551.53 324.88,550.66 325.43,550.26 325.98,550.63 326.53,553.26 327.08,551.31 327.64,551.52 328.19,548.13 328.74,550.53 329.29,551.91 329.84,551.10 330.40,551.44 330.95,550.50 331.50,551.92 332.05,551.53 332.60,553.17 333.16,552.65 333.71,553.05 334.26,551.19 334.81,551.80 335.36,548.72 335.92,550.64 336.47,551.08 337.02,550.84 337.57,553.13 338.12,551.99 338.68,549.21 339.23,550.89 339.78,551.09 340.33,552.30 340.89,553.07 341.44,553.52 341.99,551.77 342.54,553.52 343.09,550.63 343.65,553.07 344.20,550.73 344.75,551.64 345.30,552.89 345.85,553.51 346.41,550.57 346.96,553.51 347.51,551.75 348.06,549.93 348.61,553.15 349.17,552.34 349.72,550.43 350.27,551.09 350.82,553.03 351.38,552.82 351.93,551.67 352.48,550.52 353.03,551.21 353.58,552.57 354.14,551.02 354.69,550.41 355.24,553.21 355.79,551.48 356.34,551.10 356.90,553.14 357.45,552.59 358.00,551.80 358.67,552.07 359.33,551.92 360.00,551.00 360.62,550.58 361.25,548.69 361.88,547.57 362.50,547.50 363.12,545.53 363.75,542.82 364.38,542.52 365.00,540.00 365.62,535.79 366.25,532.42 366.88,526.04 367.50,525.00 368.17,517.81 368.83,510.47 369.50,502.50 370.12,490.00 370.75,477.50 371.38,462.50 372.00,447.50 372.50,443.69 373.07,443.69 373.64,443.69 374.21,443.69 374.79,443.69 375.36,443.69 375.93,443.68 376.50,443.68 377.07,443.68 377.64,443.68 378.21,443.68 378.79,443.68 379.36,443.68 379.93,443.67 380.50,443.67 381.50,465.00 382.50,472.50 383.17,476.83 383.83,480.36 384.50,486.00 385.50,497.50 386.25,508.00 386.88,511.72 387.50,503.57 388.12,502.79 388.75,507.00 389.38,505.11 390.00,509.07 390.62,509.75 391.25,510.17 391.88,509.64 392.50,512.00 393.06,508.59 393.61,507.21 394.17,497.79 394.72,517.93 395.28,512.57 395.83,515.18 396.39,512.67 396.94,515.29 397.50,515.00 398.06,518.86 398.61,524.86 399.17,520.08 399.72,514.15 400.28,513.39 400.83,519.59 401.39,514.97 401.94,506.75 402.50,518.00 403.06,520.73 403.61,514.20 404.17,520.11 404.72,521.14 405.28,516.45 405.83,526.30 406.39,518.02 406.94,526.99 407.50,523.00 408.10,526.85 408.70,533.66 409.30,533.00 409.90,528.18 410.50,525.00 411.17,525.41 411.83,535.75 412.50,522.00 413.08,526.28 413.66,523.44 414.24,520.49 414.82,525.54 415.40,526.00 416.10,528.07 416.80,522.48 417.50,525.00 418.07,523.15 418.64,528.39 419.21,512.68 419.79,522.52 420.36,526.10 420.93,526.98 421.50,522.00 422.06,526.60 422.63,526.66 423.19,524.25 423.75,519.79 424.32,519.14 424.88,518.72 425.45,523.97 426.01,519.86 426.57,529.16 427.14,518.26 427.70,523.00 428.25,520.51 428.81,528.50 429.36,535.35 429.92,524.70 430.47,523.33 431.03,525.98 431.58,520.19 432.14,526.00 432.69,528.29 433.25,520.96 433.80,524.00 434.39,525.04 434.98,522.94 435.56,522.28 436.15,526.94 436.74,521.92 437.32,516.58 437.91,516.22 438.50,520.00 439.10,523.47 439.70,516.60 440.30,514.56 440.90,513.27 441.50,513.00 442.12,514.55 442.74,511.51 443.36,513.72 443.98,509.58 444.60,509.00 445.22,513.94 445.84,510.77 446.46,506.11 447.08,507.08 447.70,507.00 448.26,505.23 448.82,500.29 449.38,503.21 449.94,508.19 450.50,505.00 451.12,512.41 451.75,505.82 452.38,505.80 453.00,513.00 453.60,518.79 454.20,516.05 454.80,522.34 455.40,517.00 455.97,514.54 456.55,508.84 457.12,516.64 457.70,523.00 458.45,528.03 459.20,532.00 459.77,536.44 460.35,540.87 460.93,539.62 461.50,541.50 462.13,544.75 462.77,544.22 463.40,549.20 463.96,546.98 464.52,550.52 465.08,547.15 465.64,553.29 466.20,548.00 466.77,543.58 467.35,550.04 467.93,548.20 468.50,551.11 469.07,551.38 469.65,551.30 470.23,551.21 470.80,550.50 471.35,551.48 471.91,549.73 472.46,548.95 473.01,549.96 473.57,551.53 474.12,549.91 474.67,552.04 475.23,553.28 475.78,548.99 476.33,551.54 476.88,550.73 477.44,550.00 477.99,551.59 478.54,550.03 479.10,551.39 479.65,550.03 480.20,549.37 480.76,551.95 481.31,552.63 481.86,551.06 482.42,551.08 482.97,552.30 483.52,552.19 484.08,552.08 484.63,548.11 485.18,550.26 485.74,549.17 486.29,550.05 486.84,551.79 487.39,551.37 487.95,549.22 488.50,550.88 489.05,552.10 489.61,552.23 490.16,550.08 490.71,549.37 491.27,552.25 491.82,550.08 492.37,550.36 492.93,548.50 493.48,550.00 494.03,550.83 494.59,549.79 495.14,551.98 495.69,551.39 496.25,550.07 496.80,553.24 497.35,550.22 497.91,552.36 498.46,550.65 499.01,551.58 499.56,551.35 500.12,551.99 500.67,551.19 501.22,550.62 501.78,550.13 502.33,551.91 502.88,550.21 503.44,550.73 503.99,552.47 504.54,550.72 505.10,552.16 505.65,550.22 506.20,548.05 506.76,552.38 507.31,552.33 507.86,552.07 508.42,552.45 508.97,551.09 509.52,550.02 510.07,553.21 510.63,552.61 511.18,547.96 511.73,550.95 512.29,551.29 512.84,551.78 513.39,552.23 513.95,550.25 514.50,551.00 515.50,548.00 516.50,530.00 517.05,511.25 517.60,492.50"/>
</svg>
</body></html>
